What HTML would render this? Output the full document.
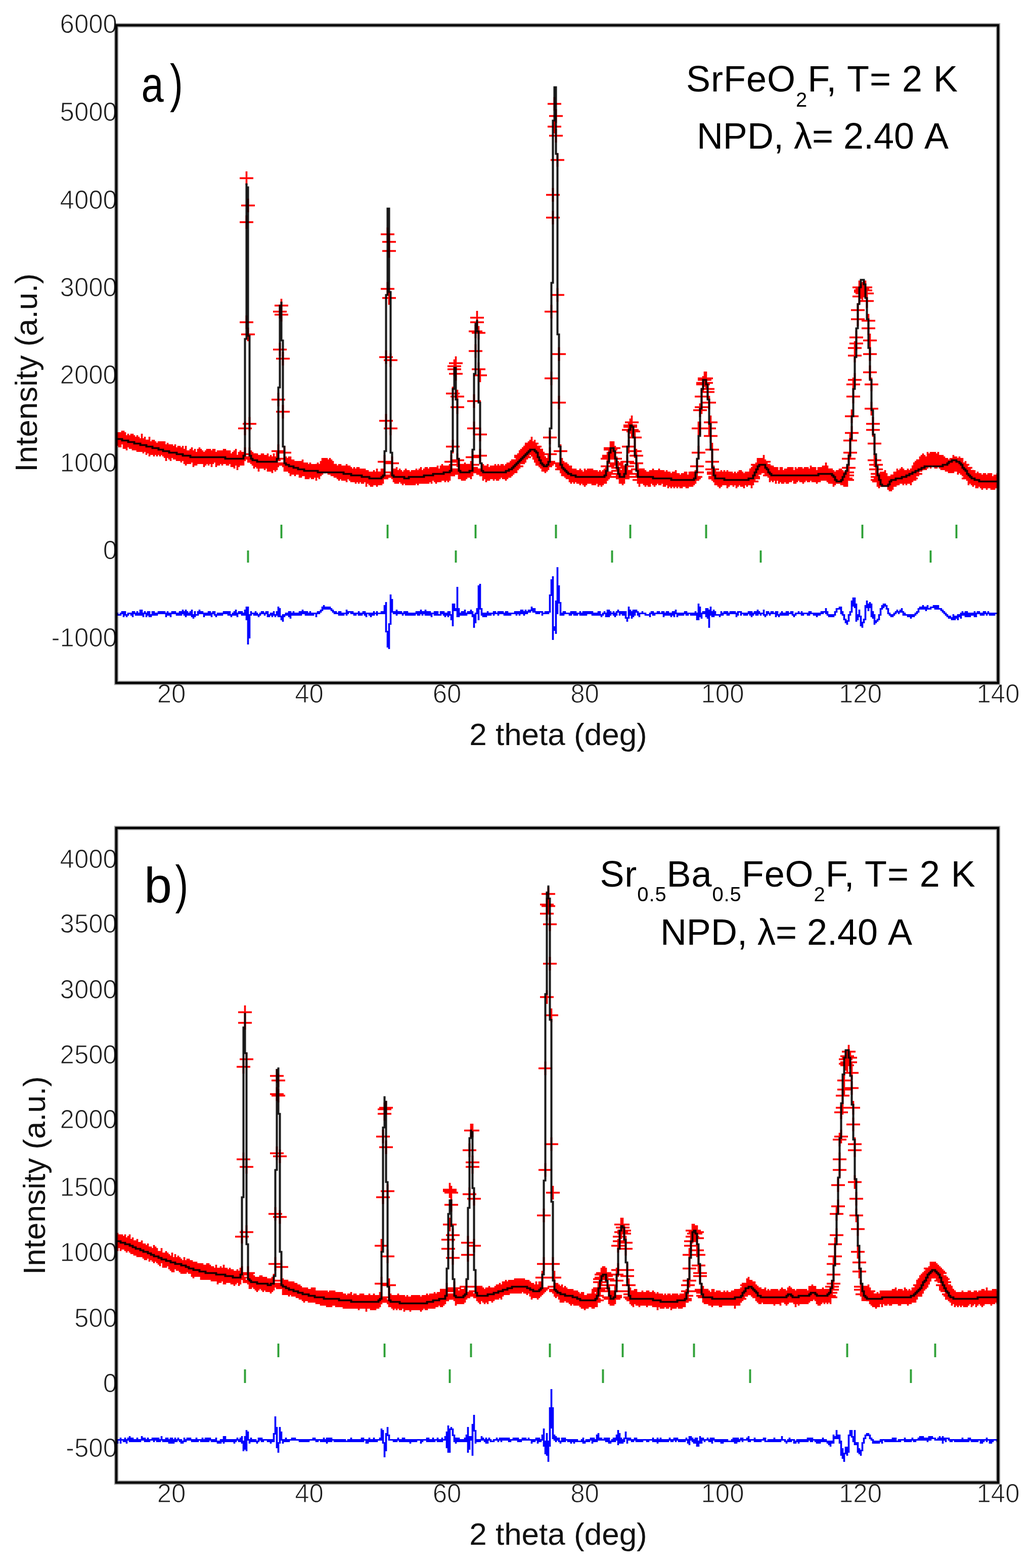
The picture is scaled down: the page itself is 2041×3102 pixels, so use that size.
<!DOCTYPE html>
<html><head><meta charset="utf-8"><title>NPD Rietveld plots</title><style>html,body{margin:0;padding:0;background:#fff;width:2041px;height:3102px;overflow:hidden}svg{display:block}</style></head><body>
<svg width="2041" height="3102" viewBox="0 0 2041 3102" font-family='"Liberation Sans", Arial, sans-serif' fill="#222">
<style>.tl{fill:#1e1e1e;stroke:#fff;stroke-width:1.1px}</style>
<rect width="100%" height="100%" fill="#fff"/>
<g>
<defs>
<clipPath id="clipa"><rect x="232.0" y="52.0" width="1740.0" height="1297.0"/></clipPath>
<path id="ra" d="M72 288.5h9M76.5 284v9M73 289.5h9M77.5 285v9M74 290.5h9M78.5 286v9M74 289.5h9M78.5 285v9M75 290.5h9M79.5 286v9M75 289.5h9M79.5 285v9M76 288.5h9M80.5 284v9M77 288.5h9M81.5 284v9M77 291.5h9M81.5 287v9M78 289.5h9M82.5 285v9M78 291.5h9M82.5 287v9M79 291.5h9M83.5 287v9M79 292.5h9M83.5 288v9M80 290.5h9M84.5 286v9M81 291.5h9M85.5 287v9M82 290.5h9M86.5 286v9M82 291.5h9M86.5 287v9M83 292.5h9M87.5 288v9M83 290.5h9M87.5 286v9M84 292.5h9M88.5 288v9M84 291.5h9M88.5 287v9M85 292.5h9M89.5 288v9M86 293.5h9M90.5 289v9M86 291.5h9M90.5 287v9M87 293.5h9M91.5 289v9M87 292.5h9M91.5 288v9M88 293.5h9M92.5 289v9M89 290.5h9M93.5 286v9M89 292.5h9M93.5 288v9M89 293.5h9M93.5 289v9M90 294.5h9M94.5 290v9M90 293.5h9M94.5 289v9M91 293.5h9M95.5 289v9M91 292.5h9M95.5 288v9M92 295.5h9M96.5 291v9M93 294.5h9M97.5 290v9M94 292.5h9M98.5 288v9M94 295.5h9M98.5 291v9M94 296.5h9M98.5 292v9M95 295.5h9M99.5 291v9M96 295.5h9M100.5 291v9M96 294.5h9M100.5 290v9M97 296.5h9M101.5 292v9M97 294.5h9M101.5 290v9M98 295.5h9M102.5 291v9M99 296.5h9M103.5 292v9M100 295.5h9M104.5 291v9M101 296.5h9M105.5 292v9M101 295.5h9M105.5 291v9M102 295.5h9M106.5 291v9M103 296.5h9M107.5 292v9M103 295.5h9M107.5 291v9M104 295.5h9M108.5 291v9M104 297.5h9M108.5 293v9M105 297.5h9M109.5 293v9M105 299.5h9M109.5 295v9M106 296.5h9M110.5 292v9M106 297.5h9M110.5 293v9M107 298.5h9M111.5 294v9M107 297.5h9M111.5 293v9M108 297.5h9M112.5 293v9M108 299.5h9M112.5 295v9M109 297.5h9M113.5 293v9M110 298.5h9M114.5 294v9M111 297.5h9M115.5 293v9M111 298.5h9M115.5 294v9M112 299.5h9M116.5 295v9M113 298.5h9M117.5 294v9M113 299.5h9M117.5 295v9M114 298.5h9M118.5 294v9M114 299.5h9M118.5 295v9M115 300.5h9M119.5 296v9M115 299.5h9M119.5 295v9M116 298.5h9M120.5 294v9M116 299.5h9M120.5 295v9M117 300.5h9M121.5 296v9M117 301.5h9M121.5 297v9M118 298.5h9M122.5 294v9M118 302.5h9M122.5 298v9M118 299.5h9M122.5 295v9M119 301.5h9M123.5 297v9M120 301.5h9M124.5 297v9M121 300.5h9M125.5 296v9M121 301.5h9M125.5 297v9M122 300.5h9M126.5 296v9M122 299.5h9M126.5 295v9M123 303.5h9M127.5 299v9M123 301.5h9M127.5 297v9M123 302.5h9M127.5 298v9M124 300.5h9M128.5 296v9M124 302.5h9M128.5 298v9M125 302.5h9M129.5 298v9M126 301.5h9M130.5 297v9M126 300.5h9M130.5 296v9M127 301.5h9M131.5 297v9M127 299.5h9M131.5 295v9M128 300.5h9M132.5 296v9M128 301.5h9M132.5 297v9M129 301.5h9M133.5 297v9M130 303.5h9M134.5 299v9M130 302.5h9M134.5 298v9M131 301.5h9M135.5 297v9M131 302.5h9M135.5 298v9M132 300.5h9M136.5 296v9M132 301.5h9M136.5 297v9M133 302.5h9M137.5 298v9M133 300.5h9M137.5 296v9M133 301.5h9M137.5 297v9M134 300.5h9M138.5 296v9M134 301.5h9M138.5 297v9M135 303.5h9M139.5 299v9M135 301.5h9M139.5 297v9M136 301.5h9M140.5 297v9M136 300.5h9M140.5 296v9M137 300.5h9M141.5 296v9M138 302.5h9M142.5 298v9M138 303.5h9M142.5 299v9M139 301.5h9M143.5 297v9M139 302.5h9M143.5 298v9M140 301.5h9M144.5 297v9M140 302.5h9M144.5 298v9M141 301.5h9M145.5 297v9M142 302.5h9M146.5 298v9M142 301.5h9M146.5 297v9M143 301.5h9M147.5 297v9M143 300.5h9M147.5 296v9M144 300.5h9M148.5 296v9M144 301.5h9M148.5 297v9M145 301.5h9M149.5 297v9M145 302.5h9M149.5 298v9M146 302.5h9M150.5 298v9M146 301.5h9M150.5 297v9M147 301.5h9M151.5 297v9M148 303.5h9M152.5 299v9M149 302.5h9M153.5 298v9M149 303.5h9M153.5 299v9M150 301.5h9M154.5 297v9M150 304.5h9M154.5 300v9M151 302.5h9M155.5 298v9M151 300.5h9M155.5 296v9M152 305.5h9M156.5 301v9M152 304.5h9M156.5 300v9M153 302.5h9M157.5 298v9M153 303.5h9M157.5 299v9M154 302.5h9M158.5 298v9M154 301.5h9M158.5 297v9M155 302.5h9M159.5 298v9M156 302.5h9M160.5 298v9M157 299.5h9M161.5 295v9M157 282.5h9M161.5 278v9M158 212.5h9M162.5 208v9M158 146.5h9M162.5 142v9M158 117.5h9M162.5 113v9M159 135.5h9M163.5 131v9M159 220.5h9M163.5 216v9M160 279.5h9M164.5 275v9M160 299.5h9M164.5 295v9M161 301.5h9M165.5 297v9M162 302.5h9M166.5 298v9M163 303.5h9M167.5 299v9M163 304.5h9M167.5 300v9M164 303.5h9M168.5 299v9M165 304.5h9M169.5 300v9M165 303.5h9M169.5 299v9M166 304.5h9M170.5 300v9M166 306.5h9M170.5 302v9M167 304.5h9M171.5 300v9M168 304.5h9M172.5 300v9M168 303.5h9M172.5 299v9M169 303.5h9M173.5 299v9M169 304.5h9M173.5 300v9M170 304.5h9M174.5 300v9M170 305.5h9M174.5 301v9M171 304.5h9M175.5 300v9M172 303.5h9M176.5 299v9M172 306.5h9M176.5 302v9M173 305.5h9M177.5 301v9M173 306.5h9M177.5 302v9M174 306.5h9M178.5 302v9M174 304.5h9M178.5 300v9M175 305.5h9M179.5 301v9M175 307.5h9M179.5 303v9M176 303.5h9M180.5 299v9M176 305.5h9M180.5 301v9M177 306.5h9M181.5 302v9M177 305.5h9M181.5 301v9M178 305.5h9M182.5 301v9M178 302.5h9M182.5 298v9M179 297.5h9M183.5 293v9M179 263.5h9M183.5 259v9M180 230.5h9M184.5 226v9M180 205.5h9M184.5 201v9M181 201.5h9M185.5 197v9M181 207.5h9M185.5 203v9M182 236.5h9M186.5 232v9M182 271.5h9M186.5 267v9M183 298.5h9M187.5 294v9M183 305.5h9M187.5 301v9M183 306.5h9M187.5 302v9M184 305.5h9M188.5 301v9M184 306.5h9M188.5 302v9M185 306.5h9M189.5 302v9M186 305.5h9M190.5 301v9M186 307.5h9M190.5 303v9M187 309.5h9M191.5 305v9M187 305.5h9M191.5 301v9M188 308.5h9M192.5 304v9M188 307.5h9M192.5 303v9M189 308.5h9M193.5 304v9M189 307.5h9M193.5 303v9M190 308.5h9M194.5 304v9M190 309.5h9M194.5 305v9M191 308.5h9M195.5 304v9M192 308.5h9M196.5 304v9M193 310.5h9M197.5 306v9M193 308.5h9M197.5 304v9M194 308.5h9M198.5 304v9M194 310.5h9M198.5 306v9M195 309.5h9M199.5 305v9M195 307.5h9M199.5 303v9M196 309.5h9M200.5 305v9M197 309.5h9M201.5 305v9M197 311.5h9M201.5 307v9M198 309.5h9M202.5 305v9M198 311.5h9M202.5 307v9M199 310.5h9M203.5 306v9M199 311.5h9M203.5 307v9M200 310.5h9M204.5 306v9M200 309.5h9M204.5 305v9M201 310.5h9M205.5 306v9M201 311.5h9M205.5 307v9M202 311.5h9M206.5 307v9M202 310.5h9M206.5 306v9M203 310.5h9M207.5 306v9M204 312.5h9M208.5 308v9M204 310.5h9M208.5 306v9M205 309.5h9M209.5 305v9M205 310.5h9M209.5 306v9M206 311.5h9M210.5 307v9M206 310.5h9M210.5 306v9M207 309.5h9M211.5 305v9M207 308.5h9M211.5 304v9M208 308.5h9M212.5 304v9M208 306.5h9M212.5 302v9M209 307.5h9M213.5 303v9M209 306.5h9M213.5 302v9M210 306.5h9M214.5 302v9M210 307.5h9M214.5 303v9M211 307.5h9M215.5 303v9M211 306.5h9M215.5 302v9M212 308.5h9M216.5 304v9M212 307.5h9M216.5 303v9M213 306.5h9M217.5 302v9M213 308.5h9M217.5 304v9M214 307.5h9M218.5 303v9M214 309.5h9M218.5 305v9M215 309.5h9M219.5 305v9M215 308.5h9M219.5 304v9M216 310.5h9M220.5 306v9M217 310.5h9M221.5 306v9M218 311.5h9M222.5 307v9M219 310.5h9M223.5 306v9M219 312.5h9M223.5 308v9M220 310.5h9M224.5 306v9M220 311.5h9M224.5 307v9M221 312.5h9M225.5 308v9M221 311.5h9M225.5 307v9M222 311.5h9M226.5 307v9M222 312.5h9M226.5 308v9M223 311.5h9M227.5 307v9M223 312.5h9M227.5 308v9M224 313.5h9M228.5 309v9M224 310.5h9M228.5 306v9M225 311.5h9M229.5 307v9M226 311.5h9M230.5 307v9M226 312.5h9M230.5 308v9M227 312.5h9M231.5 308v9M227 313.5h9M231.5 309v9M228 313.5h9M232.5 309v9M229 312.5h9M233.5 308v9M229 313.5h9M233.5 309v9M230 314.5h9M234.5 310v9M230 313.5h9M234.5 309v9M231 312.5h9M235.5 308v9M231 313.5h9M235.5 309v9M232 312.5h9M236.5 308v9M232 313.5h9M236.5 309v9M232 314.5h9M236.5 310v9M233 313.5h9M237.5 309v9M234 314.5h9M238.5 310v9M234 313.5h9M238.5 309v9M235 314.5h9M239.5 310v9M235 313.5h9M239.5 309v9M236 313.5h9M240.5 309v9M237 316.5h9M241.5 312v9M237 314.5h9M241.5 310v9M238 314.5h9M242.5 310v9M239 315.5h9M243.5 311v9M240 316.5h9M244.5 312v9M240 315.5h9M244.5 311v9M241 316.5h9M245.5 312v9M241 315.5h9M245.5 311v9M242 315.5h9M246.5 311v9M242 314.5h9M246.5 310v9M243 315.5h9M247.5 311v9M244 313.5h9M248.5 309v9M244 316.5h9M248.5 312v9M245 315.5h9M249.5 311v9M246 315.5h9M250.5 311v9M247 315.5h9M251.5 311v9M247 313.5h9M251.5 309v9M248 314.5h9M252.5 310v9M248 313.5h9M252.5 309v9M249 311.5h9M253.5 307v9M249 304.5h9M253.5 300v9M250 277.5h9M254.5 273v9M250 235.5h9M254.5 231v9M251 190.5h9M255.5 186v9M251 154.5h9M255.5 150v9M252 159.5h9M256.5 155v9M252 165.5h9M256.5 161v9M252 196.5h9M256.5 192v9M253 237.5h9M257.5 233v9M253 282.5h9M257.5 278v9M254 305.5h9M258.5 301v9M254 311.5h9M258.5 307v9M255 313.5h9M259.5 309v9M256 313.5h9M260.5 309v9M256 314.5h9M260.5 310v9M257 312.5h9M261.5 308v9M257 314.5h9M261.5 310v9M257 313.5h9M261.5 309v9M258 314.5h9M262.5 310v9M259 313.5h9M263.5 309v9M260 314.5h9M264.5 310v9M261 315.5h9M265.5 311v9M262 314.5h9M266.5 310v9M263 315.5h9M267.5 311v9M263 313.5h9M267.5 309v9M264 315.5h9M268.5 311v9M264 314.5h9M268.5 310v9M265 314.5h9M269.5 310v9M265 315.5h9M269.5 311v9M266 315.5h9M270.5 311v9M267 315.5h9M271.5 311v9M267 314.5h9M271.5 310v9M268 315.5h9M272.5 311v9M268 314.5h9M272.5 310v9M269 315.5h9M273.5 311v9M269 314.5h9M273.5 310v9M270 314.5h9M274.5 310v9M270 313.5h9M274.5 309v9M271 314.5h9M275.5 310v9M271 315.5h9M275.5 311v9M272 313.5h9M276.5 309v9M272 314.5h9M276.5 310v9M273 314.5h9M277.5 310v9M273 312.5h9M277.5 308v9M274 314.5h9M278.5 310v9M275 313.5h9M279.5 309v9M275 314.5h9M279.5 310v9M276 312.5h9M280.5 308v9M276 314.5h9M280.5 310v9M277 313.5h9M281.5 309v9M277 314.5h9M281.5 310v9M277 312.5h9M281.5 308v9M278 314.5h9M282.5 310v9M278 313.5h9M282.5 309v9M279 313.5h9M283.5 309v9M279 312.5h9M283.5 308v9M280 312.5h9M284.5 308v9M280 314.5h9M284.5 310v9M281 312.5h9M285.5 308v9M282 312.5h9M286.5 308v9M282 313.5h9M286.5 309v9M283 314.5h9M287.5 310v9M283 312.5h9M287.5 308v9M284 311.5h9M288.5 307v9M284 313.5h9M288.5 309v9M285 313.5h9M289.5 309v9M286 313.5h9M290.5 309v9M286 311.5h9M290.5 307v9M287 312.5h9M291.5 308v9M287 311.5h9M291.5 307v9M287 310.5h9M291.5 306v9M288 312.5h9M292.5 308v9M288 311.5h9M292.5 307v9M289 313.5h9M293.5 309v9M289 311.5h9M293.5 307v9M290 311.5h9M294.5 307v9M290 312.5h9M294.5 308v9M291 313.5h9M295.5 309v9M291 311.5h9M295.5 307v9M292 310.5h9M296.5 306v9M292 311.5h9M296.5 307v9M292 312.5h9M296.5 308v9M293 309.5h9M297.5 305v9M293 304.5h9M297.5 300v9M294 294.5h9M298.5 290v9M294 259.5h9M298.5 255v9M295 243.5h9M299.5 239v9M295 241.5h9M299.5 237v9M296 239.5h9M300.5 235v9M296 246.5h9M300.5 242v9M297 261.5h9M301.5 257v9M297 268.5h9M301.5 264v9M297 303.5h9M301.5 299v9M298 306.5h9M302.5 302v9M298 311.5h9M302.5 307v9M299 311.5h9M303.5 307v9M300 312.5h9M304.5 308v9M300 310.5h9M304.5 306v9M301 310.5h9M305.5 306v9M301 312.5h9M305.5 308v9M302 310.5h9M306.5 306v9M302 309.5h9M306.5 305v9M302 312.5h9M306.5 308v9M303 310.5h9M307.5 306v9M303 311.5h9M307.5 307v9M304 310.5h9M308.5 306v9M305 310.5h9M309.5 306v9M306 311.5h9M310.5 307v9M306 308.5h9M310.5 304v9M307 309.5h9M311.5 305v9M307 306.5h9M311.5 302v9M307 301.5h9M311.5 297v9M308 282.5h9M312.5 278v9M308 264.5h9M312.5 260v9M309 231.5h9M313.5 227v9M309 218.5h9M313.5 214v9M310 209.5h9M314.5 205v9M310 212.5h9M314.5 208v9M311 219.5h9M315.5 215v9M311 243.5h9M315.5 239v9M312 247.5h9M316.5 243v9M312 286.5h9M316.5 282v9M312 300.5h9M316.5 296v9M313 309.5h9M317.5 305v9M314 310.5h9M318.5 306v9M314 312.5h9M318.5 308v9M315 311.5h9M319.5 307v9M316 313.5h9M320.5 309v9M316 311.5h9M320.5 307v9M317 310.5h9M321.5 306v9M317 312.5h9M321.5 308v9M318 312.5h9M322.5 308v9M319 311.5h9M323.5 307v9M320 311.5h9M324.5 307v9M321 311.5h9M325.5 307v9M321 312.5h9M325.5 308v9M322 310.5h9M326.5 306v9M322 311.5h9M326.5 307v9M323 311.5h9M327.5 307v9M323 312.5h9M327.5 308v9M324 310.5h9M328.5 306v9M324 312.5h9M328.5 308v9M325 311.5h9M329.5 307v9M326 310.5h9M330.5 306v9M327 311.5h9M331.5 307v9M327 310.5h9M331.5 306v9M328 311.5h9M332.5 307v9M329 312.5h9M333.5 308v9M329 310.5h9M333.5 306v9M330 309.5h9M334.5 305v9M330 311.5h9M334.5 307v9M331 310.5h9M335.5 306v9M331 309.5h9M335.5 305v9M332 310.5h9M336.5 306v9M332 309.5h9M336.5 305v9M333 309.5h9M337.5 305v9M333 308.5h9M337.5 304v9M334 308.5h9M338.5 304v9M334 307.5h9M338.5 303v9M335 307.5h9M339.5 303v9M336 305.5h9M340.5 301v9M336 307.5h9M340.5 303v9M336 304.5h9M340.5 300v9M337 305.5h9M341.5 301v9M337 303.5h9M341.5 299v9M338 303.5h9M342.5 299v9M338 304.5h9M342.5 300v9M339 301.5h9M343.5 297v9M339 300.5h9M343.5 296v9M340 300.5h9M344.5 296v9M341 301.5h9M345.5 297v9M341 299.5h9M345.5 295v9M342 297.5h9M346.5 293v9M342 298.5h9M346.5 294v9M343 297.5h9M347.5 293v9M343 298.5h9M347.5 294v9M344 295.5h9M348.5 291v9M344 296.5h9M348.5 292v9M345 295.5h9M349.5 291v9M345 294.5h9M349.5 290v9M346 295.5h9M350.5 291v9M346 294.5h9M350.5 290v9M346 292.5h9M350.5 288v9M347 295.5h9M351.5 291v9M348 294.5h9M352.5 290v9M349 297.5h9M353.5 293v9M349 296.5h9M353.5 292v9M350 298.5h9M354.5 294v9M350 300.5h9M354.5 296v9M351 299.5h9M355.5 295v9M351 301.5h9M355.5 297v9M351 302.5h9M355.5 298v9M352 303.5h9M356.5 299v9M352 304.5h9M356.5 300v9M353 305.5h9M357.5 301v9M353 306.5h9M357.5 302v9M354 306.5h9M358.5 302v9M355 306.5h9M359.5 302v9M355 307.5h9M359.5 303v9M356 306.5h9M360.5 302v9M357 305.5h9M361.5 301v9M357 304.5h9M361.5 300v9M358 299.5h9M362.5 295v9M358 288.5h9M362.5 284v9M359 249.5h9M363.5 245v9M359 205.5h9M363.5 201v9M360 143.5h9M364.5 139v9M360 128.5h9M364.5 124v9M361 83.5h9M365.5 79v9M361 68.5h9M365.5 64v9M362 76.5h9M366.5 72v9M362 89.5h9M366.5 85v9M363 105.5h9M367.5 101v9M363 194.5h9M367.5 190v9M364 233.5h9M368.5 229v9M364 265.5h9M368.5 261v9M365 297.5h9M369.5 293v9M365 305.5h9M369.5 301v9M366 306.5h9M370.5 302v9M366 307.5h9M370.5 303v9M366 309.5h9M370.5 305v9M367 309.5h9M371.5 305v9M367 308.5h9M371.5 304v9M368 309.5h9M372.5 305v9M369 310.5h9M373.5 306v9M369 311.5h9M373.5 307v9M370 311.5h9M374.5 307v9M371 311.5h9M375.5 307v9M371 313.5h9M375.5 309v9M372 314.5h9M376.5 310v9M372 311.5h9M376.5 307v9M373 313.5h9M377.5 309v9M374 314.5h9M378.5 310v9M374 313.5h9M378.5 309v9M375 313.5h9M379.5 309v9M376 314.5h9M380.5 310v9M377 314.5h9M381.5 310v9M378 313.5h9M382.5 309v9M378 315.5h9M382.5 311v9M379 314.5h9M383.5 310v9M380 315.5h9M384.5 311v9M381 313.5h9M385.5 309v9M381 314.5h9M385.5 310v9M381 316.5h9M385.5 312v9M382 315.5h9M386.5 311v9M382 314.5h9M386.5 310v9M383 313.5h9M387.5 309v9M383 314.5h9M387.5 310v9M384 314.5h9M388.5 310v9M384 313.5h9M388.5 309v9M385 314.5h9M389.5 310v9M385 313.5h9M389.5 309v9M386 313.5h9M390.5 309v9M386 315.5h9M390.5 311v9M386 314.5h9M390.5 310v9M387 314.5h9M391.5 310v9M387 315.5h9M391.5 311v9M388 315.5h9M392.5 311v9M388 314.5h9M392.5 310v9M389 314.5h9M393.5 310v9M390 316.5h9M394.5 312v9M390 315.5h9M394.5 311v9M391 314.5h9M395.5 310v9M391 315.5h9M395.5 311v9M392 315.5h9M396.5 311v9M392 316.5h9M396.5 312v9M393 315.5h9M397.5 311v9M393 314.5h9M397.5 310v9M394 314.5h9M398.5 310v9M394 313.5h9M398.5 309v9M395 314.5h9M399.5 310v9M395 311.5h9M399.5 307v9M396 312.5h9M400.5 308v9M396 307.5h9M400.5 303v9M396 302.5h9M400.5 298v9M397 301.5h9M401.5 297v9M397 300.5h9M401.5 296v9M398 296.5h9M402.5 292v9M398 295.5h9M402.5 291v9M399 295.5h9M403.5 291v9M400 295.5h9M404.5 291v9M401 298.5h9M405.5 294v9M401 302.5h9M405.5 298v9M402 305.5h9M406.5 301v9M402 306.5h9M406.5 302v9M403 308.5h9M407.5 304v9M403 310.5h9M407.5 306v9M404 312.5h9M408.5 308v9M404 314.5h9M408.5 310v9M405 314.5h9M409.5 310v9M406 313.5h9M410.5 309v9M406 315.5h9M410.5 311v9M407 314.5h9M411.5 310v9M407 312.5h9M411.5 308v9M408 311.5h9M412.5 307v9M408 310.5h9M412.5 306v9M409 307.5h9M413.5 303v9M409 304.5h9M413.5 300v9M410 294.5h9M414.5 290v9M410 283.5h9M414.5 279v9M411 281.5h9M415.5 277v9M411 280.5h9M415.5 276v9M412 278.5h9M416.5 274v9M412 283.5h9M416.5 279v9M413 284.5h9M417.5 280v9M414 288.5h9M418.5 284v9M414 297.5h9M418.5 293v9M415 300.5h9M419.5 296v9M415 305.5h9M419.5 301v9M416 309.5h9M420.5 305v9M416 312.5h9M420.5 308v9M416 314.5h9M420.5 310v9M417 316.5h9M421.5 312v9M417 314.5h9M421.5 310v9M418 314.5h9M422.5 310v9M419 313.5h9M423.5 309v9M419 314.5h9M423.5 310v9M420 315.5h9M424.5 311v9M420 314.5h9M424.5 310v9M421 314.5h9M425.5 310v9M421 316.5h9M425.5 312v9M421 315.5h9M425.5 311v9M422 315.5h9M426.5 311v9M423 315.5h9M427.5 311v9M423 316.5h9M427.5 312v9M424 314.5h9M428.5 310v9M424 316.5h9M428.5 312v9M425 314.5h9M429.5 310v9M426 313.5h9M430.5 309v9M426 314.5h9M430.5 310v9M426 315.5h9M430.5 311v9M427 316.5h9M431.5 312v9M427 314.5h9M431.5 310v9M428 315.5h9M432.5 311v9M428 314.5h9M432.5 310v9M429 314.5h9M433.5 310v9M430 315.5h9M434.5 311v9M430 313.5h9M434.5 309v9M431 315.5h9M435.5 311v9M431 314.5h9M435.5 310v9M432 314.5h9M436.5 310v9M433 316.5h9M437.5 312v9M433 314.5h9M437.5 310v9M434 316.5h9M438.5 312v9M434 315.5h9M438.5 311v9M435 315.5h9M439.5 311v9M435 314.5h9M439.5 310v9M436 316.5h9M440.5 312v9M436 317.5h9M440.5 313v9M436 315.5h9M440.5 311v9M437 315.5h9M441.5 311v9M437 316.5h9M441.5 312v9M438 316.5h9M442.5 312v9M438 317.5h9M442.5 313v9M439 315.5h9M443.5 311v9M439 316.5h9M443.5 312v9M440 315.5h9M444.5 311v9M440 317.5h9M444.5 313v9M441 314.5h9M445.5 310v9M441 316.5h9M445.5 312v9M442 316.5h9M446.5 312v9M442 317.5h9M446.5 313v9M443 316.5h9M447.5 312v9M444 317.5h9M448.5 313v9M445 316.5h9M449.5 312v9M445 317.5h9M449.5 313v9M446 316.5h9M450.5 312v9M447 316.5h9M451.5 312v9M447 315.5h9M451.5 311v9M448 317.5h9M452.5 313v9M448 315.5h9M452.5 311v9M449 317.5h9M453.5 313v9M450 316.5h9M454.5 312v9M450 315.5h9M454.5 311v9M451 316.5h9M455.5 312v9M452 316.5h9M456.5 312v9M453 315.5h9M457.5 311v9M454 314.5h9M458.5 310v9M455 311.5h9M459.5 307v9M455 307.5h9M459.5 303v9M456 298.5h9M460.5 294v9M456 282.5h9M460.5 278v9M457 282.5h9M461.5 278v9M457 270.5h9M461.5 266v9M458 268.5h9M462.5 264v9M458 261.5h9M462.5 257v9M459 253.5h9M463.5 249v9M459 252.5h9M463.5 248v9M460 249.5h9M464.5 245v9M460 250.5h9M464.5 246v9M461 252.5h9M465.5 248v9M461 249.5h9M465.5 245v9M462 258.5h9M466.5 254v9M462 256.5h9M466.5 252v9M463 265.5h9M467.5 261v9M463 282.5h9M467.5 278v9M464 278.5h9M468.5 274v9M464 287.5h9M468.5 283v9M465 296.5h9M469.5 292v9M465 304.5h9M469.5 300v9M465 309.5h9M469.5 305v9M466 312.5h9M470.5 308v9M466 311.5h9M470.5 307v9M467 314.5h9M471.5 310v9M467 315.5h9M471.5 311v9M468 315.5h9M472.5 311v9M469 316.5h9M473.5 312v9M470 316.5h9M474.5 312v9M470 317.5h9M474.5 313v9M471 314.5h9M475.5 310v9M471 316.5h9M475.5 312v9M472 315.5h9M476.5 311v9M473 315.5h9M477.5 311v9M473 314.5h9M477.5 310v9M474 315.5h9M478.5 311v9M475 316.5h9M479.5 312v9M475 314.5h9M479.5 310v9M475 317.5h9M479.5 313v9M476 316.5h9M480.5 312v9M476 315.5h9M480.5 311v9M477 315.5h9M481.5 311v9M478 315.5h9M482.5 311v9M479 316.5h9M483.5 312v9M480 315.5h9M484.5 311v9M481 316.5h9M485.5 312v9M481 317.5h9M485.5 313v9M482 316.5h9M486.5 312v9M482 315.5h9M486.5 311v9M483 314.5h9M487.5 310v9M483 315.5h9M487.5 311v9M484 314.5h9M488.5 310v9M484 316.5h9M488.5 312v9M485 315.5h9M489.5 311v9M485 316.5h9M489.5 312v9M486 316.5h9M490.5 312v9M486 317.5h9M490.5 313v9M487 315.5h9M491.5 311v9M488 315.5h9M492.5 311v9M488 316.5h9M492.5 312v9M489 315.5h9M493.5 311v9M490 314.5h9M494.5 310v9M490 315.5h9M494.5 311v9M491 317.5h9M495.5 313v9M491 314.5h9M495.5 310v9M492 315.5h9M496.5 311v9M492 314.5h9M496.5 310v9M493 312.5h9M497.5 308v9M494 311.5h9M498.5 307v9M494 309.5h9M498.5 305v9M495 310.5h9M499.5 306v9M495 306.5h9M499.5 302v9M495 308.5h9M499.5 304v9M496 307.5h9M500.5 303v9M496 306.5h9M500.5 302v9M497 306.5h9M501.5 302v9M498 306.5h9M502.5 302v9M499 306.5h9M503.5 302v9M499 304.5h9M503.5 300v9M500 307.5h9M504.5 303v9M500 308.5h9M504.5 304v9M501 309.5h9M505.5 305v9M501 308.5h9M505.5 304v9M502 310.5h9M506.5 306v9M503 311.5h9M507.5 307v9M503 313.5h9M507.5 309v9M504 312.5h9M508.5 308v9M505 311.5h9M509.5 307v9M505 313.5h9M509.5 309v9M506 312.5h9M510.5 308v9M507 314.5h9M511.5 310v9M507 312.5h9M511.5 308v9M508 312.5h9M512.5 308v9M509 314.5h9M513.5 310v9M510 313.5h9M514.5 309v9M510 312.5h9M514.5 308v9M511 314.5h9M515.5 310v9M511 312.5h9M515.5 308v9M512 314.5h9M516.5 310v9M513 313.5h9M517.5 309v9M514 313.5h9M518.5 309v9M514 314.5h9M518.5 310v9M515 312.5h9M519.5 308v9M515 314.5h9M519.5 310v9M516 312.5h9M520.5 308v9M516 313.5h9M520.5 309v9M517 313.5h9M521.5 309v9M517 312.5h9M521.5 308v9M518 312.5h9M522.5 308v9M519 314.5h9M523.5 310v9M520 313.5h9M524.5 309v9M520 314.5h9M524.5 310v9M520 312.5h9M524.5 308v9M521 313.5h9M525.5 309v9M522 312.5h9M526.5 308v9M523 313.5h9M527.5 309v9M523 312.5h9M527.5 308v9M524 312.5h9M528.5 308v9M524 313.5h9M528.5 309v9M525 313.5h9M529.5 309v9M525 314.5h9M529.5 310v9M526 312.5h9M530.5 308v9M526 313.5h9M530.5 309v9M527 312.5h9M531.5 308v9M528 312.5h9M532.5 308v9M528 313.5h9M532.5 309v9M529 313.5h9M533.5 309v9M530 311.5h9M534.5 307v9M530 312.5h9M534.5 308v9M531 313.5h9M535.5 309v9M531 312.5h9M535.5 308v9M532 312.5h9M536.5 308v9M532 313.5h9M536.5 309v9M533 313.5h9M537.5 309v9M533 312.5h9M537.5 308v9M534 314.5h9M538.5 310v9M535 312.5h9M539.5 308v9M535 313.5h9M539.5 309v9M536 313.5h9M540.5 309v9M536 312.5h9M540.5 308v9M537 312.5h9M541.5 308v9M538 311.5h9M542.5 307v9M538 312.5h9M542.5 308v9M539 312.5h9M543.5 308v9M539 311.5h9M543.5 307v9M540 311.5h9M544.5 307v9M540 309.5h9M544.5 305v9M540 312.5h9M544.5 308v9M541 311.5h9M545.5 307v9M541 313.5h9M545.5 309v9M542 314.5h9M546.5 310v9M543 313.5h9M547.5 309v9M543 314.5h9M547.5 310v9M544 314.5h9M548.5 310v9M545 314.5h9M549.5 310v9M545 316.5h9M549.5 312v9M546 315.5h9M550.5 311v9M547 314.5h9M551.5 310v9M548 314.5h9M552.5 310v9M549 314.5h9M553.5 310v9M549 313.5h9M553.5 309v9M550 313.5h9M554.5 309v9M550 315.5h9M554.5 311v9M551 314.5h9M555.5 310v9M551 315.5h9M555.5 311v9M552 316.5h9M556.5 312v9M553 316.5h9M557.5 312v9M553 315.5h9M557.5 311v9M554 316.5h9M558.5 312v9M554 313.5h9M558.5 309v9M554 311.5h9M558.5 307v9M555 308.5h9M559.5 304v9M555 302.5h9M559.5 298v9M556 298.5h9M560.5 294v9M556 290.5h9M560.5 286v9M557 285.5h9M561.5 281v9M557 274.5h9M561.5 270v9M558 261.5h9M562.5 257v9M558 253.5h9M562.5 249v9M559 250.5h9M563.5 246v9M559 234.5h9M563.5 230v9M559 229.5h9M563.5 225v9M560 226.5h9M564.5 222v9M560 222.5h9M564.5 218v9M561 210.5h9M565.5 206v9M561 204.5h9M565.5 200v9M562 195.5h9M566.5 191v9M562 189.5h9M566.5 185v9M563 192.5h9M567.5 188v9M563 191.5h9M567.5 187v9M564 193.5h9M568.5 189v9M564 191.5h9M568.5 187v9M564 190.5h9M568.5 186v9M565 189.5h9M569.5 185v9M565 191.5h9M569.5 187v9M566 191.5h9M570.5 187v9M566 189.5h9M570.5 185v9M567 193.5h9M571.5 189v9M567 198.5h9M571.5 194v9M568 211.5h9M572.5 207v9M568 216.5h9M572.5 212v9M569 224.5h9M573.5 220v9M569 233.5h9M573.5 229v9M569 245.5h9M573.5 241v9M570 253.5h9M574.5 249v9M570 269.5h9M574.5 265v9M571 279.5h9M575.5 275v9M571 283.5h9M575.5 279v9M572 292.5h9M576.5 288v9M572 303.5h9M576.5 299v9M573 306.5h9M577.5 302v9M573 309.5h9M577.5 305v9M574 312.5h9M578.5 308v9M574 314.5h9M578.5 310v9M574 316.5h9M578.5 312v9M575 316.5h9M579.5 312v9M575 317.5h9M579.5 313v9M576 316.5h9M580.5 312v9M576 315.5h9M580.5 311v9M577 316.5h9M581.5 312v9M577 315.5h9M581.5 311v9M578 316.5h9M582.5 312v9M578 315.5h9M582.5 311v9M579 314.5h9M583.5 310v9M579 315.5h9M583.5 311v9M579 316.5h9M583.5 312v9M580 316.5h9M584.5 312v9M581 318.5h9M585.5 314v9M582 319.5h9M586.5 315v9M582 318.5h9M586.5 314v9M583 319.5h9M587.5 315v9M583 318.5h9M587.5 314v9M584 318.5h9M588.5 314v9M584 317.5h9M588.5 313v9M585 316.5h9M589.5 312v9M585 315.5h9M589.5 311v9M586 316.5h9M590.5 312v9M586 315.5h9M590.5 311v9M587 314.5h9M591.5 310v9M587 313.5h9M591.5 309v9M588 314.5h9M592.5 310v9M588 315.5h9M592.5 311v9M589 313.5h9M593.5 309v9M589 314.5h9M593.5 310v9M590 312.5h9M594.5 308v9M590 314.5h9M594.5 310v9M591 313.5h9M595.5 309v9M591 315.5h9M595.5 311v9M592 314.5h9M596.5 310v9M593 314.5h9M597.5 310v9M593 315.5h9M597.5 311v9M594 314.5h9M598.5 310v9M594 313.5h9M598.5 309v9M595 314.5h9M599.5 310v9M596 315.5h9M600.5 311v9M596 313.5h9M600.5 309v9M597 313.5h9M601.5 309v9M598 312.5h9M602.5 308v9M599 312.5h9M603.5 308v9M599 310.5h9M603.5 306v9M600 309.5h9M604.5 305v9M601 308.5h9M605.5 304v9M601 307.5h9M605.5 303v9M602 305.5h9M606.5 301v9M602 306.5h9M606.5 302v9M603 304.5h9M607.5 300v9M603 305.5h9M607.5 301v9M604 305.5h9M608.5 301v9M604 303.5h9M608.5 299v9M605 305.5h9M609.5 301v9M605 304.5h9M609.5 300v9M606 305.5h9M610.5 301v9M607 302.5h9M611.5 298v9M607 304.5h9M611.5 300v9M608 303.5h9M612.5 299v9M609 304.5h9M613.5 300v9M609 302.5h9M613.5 298v9M610 302.5h9M614.5 298v9M611 303.5h9M615.5 299v9M611 302.5h9M615.5 298v9M612 302.5h9M616.5 298v9M612 304.5h9M616.5 300v9M613 303.5h9M617.5 299v9M613 304.5h9M617.5 300v9M614 302.5h9M618.5 298v9M614 303.5h9M618.5 299v9M615 304.5h9M619.5 300v9M616 305.5h9M620.5 301v9M616 304.5h9M620.5 300v9M617 304.5h9M621.5 300v9M617 305.5h9M621.5 301v9M618 305.5h9M622.5 301v9M619 306.5h9M623.5 302v9M620 306.5h9M624.5 302v9M621 307.5h9M625.5 303v9M622 306.5h9M626.5 302v9M622 307.5h9M626.5 303v9M623 306.5h9M627.5 302v9M623 307.5h9M627.5 303v9M624 306.5h9M628.5 302v9M624 304.5h9M628.5 300v9M624 307.5h9M628.5 303v9M625 306.5h9M629.5 302v9M625 305.5h9M629.5 301v9M626 306.5h9M630.5 302v9M626 305.5h9M630.5 301v9M627 308.5h9M631.5 304v9M627 306.5h9M631.5 302v9M628 305.5h9M632.5 301v9M628 307.5h9M632.5 303v9M629 306.5h9M633.5 302v9M629 308.5h9M633.5 304v9M630 306.5h9M634.5 302v9M630 308.5h9M634.5 304v9M631 309.5h9M635.5 305v9M632 308.5h9M636.5 304v9M632 311.5h9M636.5 307v9M633 312.5h9M637.5 308v9M633 310.5h9M637.5 306v9M634 313.5h9M638.5 309v9M634 312.5h9M638.5 308v9M634 315.5h9M638.5 311v9M635 314.5h9M639.5 310v9M636 315.5h9M640.5 311v9M637 315.5h9M641.5 311v9M637 316.5h9M641.5 312v9M638 315.5h9M642.5 311v9M638 314.5h9M642.5 310v9M639 317.5h9M643.5 313v9M639 316.5h9M643.5 312v9M640 317.5h9M644.5 313v9M640 315.5h9M644.5 311v9M641 316.5h9M645.5 312v9M642 316.5h9M646.5 312v9M642 317.5h9M646.5 313v9M643 318.5h9M647.5 314v9M643 317.5h9M647.5 313v9M644 317.5h9M648.5 313v9M644 316.5h9M648.5 312v9M645 317.5h9M649.5 313v9M645 316.5h9M649.5 312v9M646 318.5h9M650.5 314v9M646 317.5h9M650.5 313v9M647 317.5h9M651.5 313v9M647 316.5h9M651.5 312v9M648 317.5h9M652.5 313v9M648 316.5h9M652.5 312v9M649 318.5h9M653.5 314v9M649 317.5h9M653.5 313v9M649 316.5h9M653.5 312v9M650 318.5h9M654.5 314v9M651 317.5h9M655.5 313v9M651 318.5h9M655.5 314v9M652 317.5h9M656.5 313v9M653 317.5h9M657.5 313v9M653 316.5h9M657.5 312v9M654 317.5h9M658.5 313v9"/>
<path id="ka" d="M76.5 288.9v1.2M77.5 288.9v1.2M78.5 288.9v1.2M79.5 288.9v1.2M80.5 288.9v2.2M81.5 289.9v1.2M82.5 289.9v1.2M83.5 289.9v1.2M84.5 289.9v2.2M85.5 290.9v1.2M86.5 290.9v1.2M87.5 290.9v1.2M88.5 290.9v2.2M89.5 291.9v1.2M90.5 291.9v1.2M91.5 291.9v1.2M92.5 291.9v2.2M93.5 292.9v1.2M94.5 292.9v1.2M95.5 292.9v1.2M96.5 292.9v2.2M97.5 293.9v1.2M98.5 293.9v1.2M99.5 293.9v1.2M100.5 293.9v2.2M101.5 294.9v1.2M102.5 294.9v1.2M103.5 294.9v1.2M104.5 294.9v2.2M105.5 295.9v1.2M106.5 295.9v1.2M107.5 295.9v2.2M108.5 296.9v1.2M109.5 296.9v1.2M110.5 296.9v1.2M111.5 296.9v2.2M112.5 297.9v1.2M113.5 297.9v1.2M114.5 297.9v1.2M115.5 297.9v1.2M116.5 297.9v2.2M117.5 298.9v1.2M118.5 298.9v1.2M119.5 298.9v1.2M120.5 298.9v2.2M121.5 299.9v1.2M122.5 299.9v1.2M123.5 299.9v1.2M124.5 299.9v1.2M125.5 299.9v2.2M126.5 300.9v1.2M127.5 300.9v1.2M128.5 300.9v1.2M129.5 300.9v1.2M130.5 300.9v1.2M131.5 300.9v1.2M132.5 300.9v1.2M133.5 300.9v1.2M134.5 300.9v1.2M135.5 300.9v1.2M136.5 300.9v1.2M137.5 300.9v1.2M138.5 300.9v1.2M139.5 300.9v1.2M140.5 300.9v1.2M141.5 300.9v1.2M142.5 300.9v1.2M143.5 300.9v1.2M144.5 300.9v1.2M145.5 300.9v1.2M146.5 300.9v1.2M147.5 300.9v1.2M148.5 300.9v2.2M149.5 301.9v1.2M150.5 301.9v1.2M151.5 301.9v1.2M152.5 301.9v1.2M153.5 301.9v1.2M154.5 301.9v1.2M155.5 301.9v1.2M156.5 301.9v1.2M157.5 301.9v1.2M158.5 301.9v1.2M159.5 301.9v1.2M160.5 299.9v3.2M161.5 222.9v78.2M162.5 120.9v103.2M163.5 122.9v99.2M164.5 220.9v80.2M165.5 299.9v3.2M166.5 301.9v2.2M167.5 302.9v1.2M168.5 302.9v1.2M169.5 302.9v2.2M170.5 303.9v1.2M171.5 303.9v1.2M172.5 303.9v1.2M173.5 303.9v1.2M174.5 303.9v1.2M175.5 303.9v1.2M176.5 303.9v1.2M177.5 303.9v1.2M178.5 303.9v1.2M179.5 303.9v1.2M180.5 303.9v1.2M181.5 303.9v1.2M182.5 301.9v3.2M183.5 254.9v48.2M184.5 200.9v55.2M185.5 198.9v26.2M186.5 223.9v71.2M187.5 293.9v12.2M188.5 304.9v2.2M189.5 305.9v1.2M190.5 305.9v2.2M191.5 306.9v1.2M192.5 306.9v1.2M193.5 306.9v2.2M194.5 307.9v1.2M195.5 307.9v1.2M196.5 307.9v2.2M197.5 308.9v1.2M198.5 308.9v1.2M199.5 308.9v1.2M200.5 308.9v2.2M201.5 309.9v1.2M202.5 309.9v1.2M203.5 309.9v1.2M204.5 309.9v1.2M205.5 309.9v1.2M206.5 309.9v1.2M207.5 309.9v1.2M208.5 309.9v1.2M209.5 309.9v2.2M210.5 310.9v1.2M211.5 310.9v1.2M212.5 310.9v1.2M213.5 310.9v1.2M214.5 310.9v1.2M215.5 310.9v1.2M216.5 310.9v1.2M217.5 310.9v1.2M218.5 310.9v1.2M219.5 310.9v1.2M220.5 310.9v1.2M221.5 310.9v1.2M222.5 310.9v1.2M223.5 310.9v1.2M224.5 310.9v1.2M225.5 310.9v1.2M226.5 310.9v2.2M227.5 311.9v1.2M228.5 311.9v1.2M229.5 311.9v1.2M230.5 311.9v1.2M231.5 311.9v2.2M232.5 312.9v1.2M233.5 312.9v1.2M234.5 312.9v1.2M235.5 312.9v1.2M236.5 312.9v1.2M237.5 312.9v1.2M238.5 312.9v2.2M239.5 313.9v1.2M240.5 313.9v1.2M241.5 313.9v1.2M242.5 313.9v1.2M243.5 313.9v2.2M244.5 314.9v1.2M245.5 314.9v1.2M246.5 314.9v1.2M247.5 314.9v1.2M248.5 314.9v1.2M249.5 314.9v1.2M250.5 314.9v1.2M251.5 313.9v2.2M252.5 312.9v2.2M253.5 296.9v17.2M254.5 193.9v104.2M255.5 136.9v58.2M256.5 136.9v56.2M257.5 191.9v107.2M258.5 297.9v16.2M259.5 312.9v2.2M260.5 313.9v1.2M261.5 313.9v1.2M262.5 313.9v1.2M263.5 313.9v1.2M264.5 313.9v1.2M265.5 313.9v1.2M266.5 313.9v2.2M267.5 314.9v1.2M268.5 314.9v1.2M269.5 313.9v2.2M270.5 313.9v1.2M271.5 313.9v1.2M272.5 313.9v1.2M273.5 313.9v1.2M274.5 313.9v1.2M275.5 313.9v1.2M276.5 313.9v1.2M277.5 313.9v1.2M278.5 313.9v1.2M279.5 312.9v2.2M280.5 312.9v1.2M281.5 312.9v1.2M282.5 312.9v1.2M283.5 312.9v1.2M284.5 312.9v1.2M285.5 311.9v2.2M286.5 311.9v1.2M287.5 311.9v1.2M288.5 311.9v1.2M289.5 311.9v1.2M290.5 311.9v1.2M291.5 311.9v1.2M292.5 310.9v2.2M293.5 310.9v1.2M294.5 310.9v1.2M295.5 310.9v1.2M296.5 309.9v2.2M297.5 296.9v14.2M298.5 255.9v42.2M299.5 241.9v15.2M300.5 241.9v22.2M301.5 262.9v40.2M302.5 301.9v9.2M303.5 309.9v2.2M304.5 310.9v1.2M305.5 310.9v1.2M306.5 310.9v1.2M307.5 310.9v1.2M308.5 310.9v1.2M309.5 309.9v2.2M310.5 309.9v1.2M311.5 295.9v15.2M312.5 245.9v51.2M313.5 212.9v34.2M314.5 210.9v8.2M315.5 217.9v48.2M316.5 264.9v41.2M317.5 304.9v6.2M318.5 309.9v2.2M319.5 310.9v1.2M320.5 310.9v1.2M321.5 310.9v1.2M322.5 310.9v1.2M323.5 310.9v1.2M324.5 310.9v1.2M325.5 310.9v1.2M326.5 310.9v1.2M327.5 310.9v1.2M328.5 310.9v1.2M329.5 310.9v1.2M330.5 310.9v1.2M331.5 310.9v1.2M332.5 310.9v1.2M333.5 309.9v2.2M334.5 309.9v1.2M335.5 308.9v2.2M336.5 308.9v1.2M337.5 307.9v2.2M338.5 306.9v2.2M339.5 305.9v2.2M340.5 304.9v2.2M341.5 303.9v2.2M342.5 302.9v2.2M343.5 301.9v2.2M344.5 300.9v2.2M345.5 299.9v2.2M346.5 298.9v2.2M347.5 297.9v2.2M348.5 296.9v2.2M349.5 295.9v2.2M350.5 295.9v1.2M351.5 295.9v1.2M352.5 295.9v2.2M353.5 296.9v2.2M354.5 297.9v4.2M355.5 300.9v3.2M356.5 302.9v3.2M357.5 304.9v2.2M358.5 305.9v2.2M359.5 306.9v1.2M360.5 305.9v2.2M361.5 303.9v3.2M362.5 281.9v23.2M363.5 185.9v97.2M364.5 78.9v108.2M365.5 56.9v23.2M366.5 56.9v45.2M367.5 100.9v120.2M368.5 219.9v75.2M369.5 293.9v13.2M370.5 305.9v3.2M371.5 307.9v2.2M372.5 308.9v2.2M373.5 309.9v2.2M374.5 310.9v2.2M375.5 311.9v1.2M376.5 311.9v2.2M377.5 312.9v1.2M378.5 312.9v1.2M379.5 312.9v2.2M380.5 313.9v1.2M381.5 313.9v1.2M382.5 313.9v1.2M383.5 313.9v1.2M384.5 313.9v1.2M385.5 313.9v1.2M386.5 313.9v1.2M387.5 313.9v1.2M388.5 313.9v1.2M389.5 313.9v1.2M390.5 313.9v1.2M391.5 313.9v1.2M392.5 313.9v1.2M393.5 313.9v1.2M394.5 313.9v1.2M395.5 313.9v1.2M396.5 313.9v1.2M397.5 313.9v1.2M398.5 312.9v2.2M399.5 309.9v4.2M400.5 303.9v7.2M401.5 297.9v7.2M402.5 294.9v4.2M403.5 294.9v1.2M404.5 294.9v3.2M405.5 296.9v6.2M406.5 301.9v7.2M407.5 307.9v5.2M408.5 311.9v3.2M409.5 313.9v1.2M410.5 313.9v1.2M411.5 311.9v3.2M412.5 305.9v7.2M413.5 293.9v13.2M414.5 282.9v12.2M415.5 279.9v4.2M416.5 279.9v2.2M417.5 280.9v8.2M418.5 287.9v13.2M419.5 299.9v11.2M420.5 309.9v5.2M421.5 313.9v1.2M422.5 313.9v1.2M423.5 313.9v1.2M424.5 313.9v1.2M425.5 313.9v1.2M426.5 313.9v1.2M427.5 313.9v1.2M428.5 313.9v1.2M429.5 313.9v1.2M430.5 313.9v2.2M431.5 314.9v1.2M432.5 314.9v1.2M433.5 314.9v1.2M434.5 314.9v1.2M435.5 314.9v1.2M436.5 314.9v1.2M437.5 314.9v1.2M438.5 314.9v1.2M439.5 314.9v1.2M440.5 314.9v1.2M441.5 314.9v1.2M442.5 314.9v2.2M443.5 315.9v1.2M444.5 315.9v1.2M445.5 315.9v1.2M446.5 315.9v1.2M447.5 315.9v1.2M448.5 315.9v1.2M449.5 315.9v1.2M450.5 315.9v1.2M451.5 315.9v1.2M452.5 315.9v1.2M453.5 315.9v1.2M454.5 315.9v1.2M455.5 315.9v1.2M456.5 315.9v1.2M457.5 314.9v2.2M458.5 310.9v5.2M459.5 301.9v10.2M460.5 286.9v16.2M461.5 268.9v19.2M462.5 255.9v14.2M463.5 249.9v7.2M464.5 249.9v1.2M465.5 249.9v4.2M466.5 252.9v11.2M467.5 262.9v17.2M468.5 278.9v18.2M469.5 295.9v13.2M470.5 307.9v6.2M471.5 312.9v3.2M472.5 314.9v1.2M473.5 314.9v1.2M474.5 314.9v1.2M475.5 314.9v1.2M476.5 314.9v1.2M477.5 314.9v2.2M478.5 315.9v1.2M479.5 315.9v1.2M480.5 315.9v1.2M481.5 315.9v1.2M482.5 315.9v1.2M483.5 315.9v1.2M484.5 315.9v1.2M485.5 315.9v1.2M486.5 315.9v1.2M487.5 315.9v1.2M488.5 315.9v1.2M489.5 315.9v1.2M490.5 315.9v1.2M491.5 315.9v1.2M492.5 315.9v1.2M493.5 314.9v2.2M494.5 314.9v1.2M495.5 314.9v1.2M496.5 312.9v3.2M497.5 310.9v3.2M498.5 308.9v3.2M499.5 306.9v3.2M500.5 305.9v2.2M501.5 305.9v1.2M502.5 305.9v1.2M503.5 305.9v1.2M504.5 305.9v3.2M505.5 307.9v2.2M506.5 308.9v3.2M507.5 310.9v2.2M508.5 311.9v2.2M509.5 312.9v1.2M510.5 312.9v1.2M511.5 312.9v1.2M512.5 312.9v1.2M513.5 312.9v1.2M514.5 312.9v1.2M515.5 312.9v1.2M516.5 312.9v1.2M517.5 312.9v1.2M518.5 312.9v1.2M519.5 312.9v1.2M520.5 312.9v1.2M521.5 312.9v1.2M522.5 312.9v1.2M523.5 312.9v1.2M524.5 312.9v1.2M525.5 312.9v1.2M526.5 312.9v1.2M527.5 312.9v1.2M528.5 312.9v1.2M529.5 312.9v1.2M530.5 312.9v1.2M531.5 312.9v1.2M532.5 312.9v1.2M533.5 312.9v1.2M534.5 312.9v1.2M535.5 312.9v1.2M536.5 312.9v1.2M537.5 312.9v1.2M538.5 312.9v1.2M539.5 311.9v2.2M540.5 311.9v1.2M541.5 311.9v1.2M542.5 311.9v1.2M543.5 311.9v1.2M544.5 311.9v1.2M545.5 311.9v1.2M546.5 311.9v1.2M547.5 311.9v1.2M548.5 311.9v2.2M549.5 312.9v2.2M550.5 313.9v3.2M551.5 315.9v2.2M552.5 316.9v1.2M553.5 316.9v1.2M554.5 315.9v2.2M555.5 313.9v3.2M556.5 311.9v3.2M557.5 309.9v3.2M558.5 305.9v5.2M559.5 299.9v7.2M560.5 288.9v12.2M561.5 273.9v16.2M562.5 255.9v19.2M563.5 234.9v22.2M564.5 215.9v20.2M565.5 199.9v17.2M566.5 188.9v12.2M567.5 183.9v6.2M568.5 183.9v1.2M569.5 183.9v4.2M570.5 186.9v10.2M571.5 195.9v15.2M572.5 209.9v20.2M573.5 228.9v22.2M574.5 249.9v21.2M575.5 269.9v17.2M576.5 285.9v14.2M577.5 298.9v9.2M578.5 306.9v7.2M579.5 312.9v4.2M580.5 315.9v4.2M581.5 318.9v2.2M582.5 319.9v1.2M583.5 319.9v1.2M584.5 319.9v1.2M585.5 318.9v2.2M586.5 316.9v3.2M587.5 315.9v2.2M588.5 315.9v1.2M589.5 315.9v1.2M590.5 314.9v2.2M591.5 314.9v1.2M592.5 314.9v1.2M593.5 314.9v1.2M594.5 313.9v2.2M595.5 313.9v1.2M596.5 313.9v1.2M597.5 312.9v2.2M598.5 312.9v1.2M599.5 311.9v2.2M600.5 311.9v1.2M601.5 310.9v2.2M602.5 310.9v1.2M603.5 309.9v2.2M604.5 309.9v1.2M605.5 308.9v2.2M606.5 308.9v1.2M607.5 307.9v2.2M608.5 307.9v1.2M609.5 306.9v2.2M610.5 306.9v1.2M611.5 306.9v1.2M612.5 306.9v1.2M613.5 306.9v1.2M614.5 306.9v1.2M615.5 306.9v1.2M616.5 306.9v1.2M617.5 306.9v1.2M618.5 306.9v1.2M619.5 306.9v1.2M620.5 306.9v1.2M621.5 305.9v2.2M622.5 305.9v1.2M623.5 305.9v1.2M624.5 304.9v2.2M625.5 303.9v2.2M626.5 303.9v1.2M627.5 302.9v2.2M628.5 302.9v1.2M629.5 302.9v1.2M630.5 302.9v2.2M631.5 303.9v1.2M632.5 303.9v2.2M633.5 304.9v2.2M634.5 305.9v3.2M635.5 307.9v2.2M636.5 308.9v2.2M637.5 309.9v3.2M638.5 311.9v2.2M639.5 312.9v2.2M640.5 313.9v2.2M641.5 314.9v1.2M642.5 314.9v2.2M643.5 315.9v1.2M644.5 315.9v1.2M645.5 315.9v2.2M646.5 316.9v1.2M647.5 316.9v1.2M648.5 316.9v1.2M649.5 316.9v1.2M650.5 316.9v1.2M651.5 316.9v1.2M652.5 316.9v1.2M653.5 316.9v1.2M654.5 316.9v1.2M655.5 316.9v1.2M656.5 316.9v1.2M657.5 316.9v1.2M658.5 316.9v1.2"/>
<path id="ga" d="M185.5 346v9M255.5 346v9M313.5 346v9M366.5 346v9M415.5 346v9M465.5 346v9M568.5 346v9M630.5 346v9M163.5 363v8M300.5 363v8M403.5 363v8M501.5 363v8M613.5 363v8"/>
<path id="da" d="M76.5 404v1M77.5 404v2M78.5 405v1M79.5 404v2M80.5 403v2M81.5 403v4M82.5 403v3M83.5 405v2M84.5 404v2M85.5 404v1M86.5 404v2M87.5 403v4M88.5 403v2M89.5 404v2M90.5 403v3M91.5 404v2M92.5 402v4M93.5 402v4M94.5 404v3M95.5 403v2M96.5 404v3M97.5 403v3M98.5 403v4M99.5 405v2M100.5 403v3M101.5 403v3M102.5 404v2M103.5 404v2M104.5 403v2M105.5 403v2M106.5 403v2M107.5 403v2M108.5 403v2M109.5 404v3M110.5 403v3M111.5 404v2M112.5 404v3M113.5 403v2M114.5 403v2M115.5 403v2M116.5 404v2M117.5 404v2M118.5 403v3M119.5 403v3M120.5 402v3M121.5 403v3M122.5 402v5M123.5 403v3M124.5 404v2M125.5 403v3M126.5 402v5M127.5 405v3M128.5 403v4M129.5 405v1M130.5 403v3M131.5 402v3M132.5 403v2M133.5 403v2M134.5 404v3M135.5 404v2M136.5 404v2M137.5 403v3M138.5 403v3M139.5 404v3M140.5 403v2M141.5 403v3M142.5 405v2M143.5 404v2M144.5 404v2M145.5 404v2M146.5 404v2M147.5 403v2M148.5 403v2M149.5 403v2M150.5 403v3M151.5 403v3M152.5 405v2M153.5 404v2M154.5 403v3M155.5 402v4M156.5 404v3M157.5 403v2M158.5 403v2M159.5 403v3M160.5 404v2M161.5 402v4M162.5 400v9M163.5 400v25M164.5 405v16M165.5 403v3M166.5 404v1M167.5 404v2M168.5 403v3M169.5 404v2M170.5 405v2M171.5 404v2M172.5 403v2M173.5 403v2M174.5 404v2M175.5 403v2M176.5 403v4M177.5 405v2M178.5 404v2M179.5 404v3M180.5 403v3M181.5 405v2M182.5 403v3M183.5 400v7M184.5 401v6M185.5 406v3M186.5 405v5M187.5 405v2M188.5 404v2M189.5 404v2M190.5 403v4M191.5 403v5M192.5 404v2M193.5 403v3M194.5 404v2M195.5 404v2M196.5 404v2M197.5 403v3M198.5 403v3M199.5 402v3M200.5 403v2M201.5 403v3M202.5 403v3M203.5 404v2M204.5 403v3M205.5 404v2M206.5 404v2M207.5 404v1M208.5 404v3M209.5 403v2M210.5 403v2M211.5 402v2M212.5 400v3M213.5 399v3M214.5 400v2M215.5 400v2M216.5 400v2M217.5 400v2M218.5 401v2M219.5 402v2M220.5 403v2M221.5 403v2M222.5 404v1M223.5 403v3M224.5 403v3M225.5 404v2M226.5 404v2M227.5 404v1M228.5 402v4M229.5 403v2M230.5 403v1M231.5 403v2M232.5 403v2M233.5 404v2M234.5 404v2M235.5 404v1M236.5 403v3M237.5 404v2M238.5 404v2M239.5 403v2M240.5 403v3M241.5 404v3M242.5 404v1M243.5 404v2M244.5 404v3M245.5 404v2M246.5 403v3M247.5 404v1M248.5 403v3M249.5 404v1M250.5 404v1M251.5 403v2M252.5 403v2M253.5 399v6M254.5 397v20M255.5 416v11M256.5 411v17M257.5 392v20M258.5 395v9M259.5 403v2M260.5 403v2M261.5 402v4M262.5 403v2M263.5 403v2M264.5 403v2M265.5 404v2M266.5 403v2M267.5 403v3M268.5 403v3M269.5 404v2M270.5 404v2M271.5 404v2M272.5 404v2M273.5 404v2M274.5 403v2M275.5 403v3M276.5 403v3M277.5 402v3M278.5 403v3M279.5 403v2M280.5 402v4M281.5 403v3M282.5 403v3M283.5 403v3M284.5 404v3M285.5 404v1M286.5 403v3M287.5 403v3M288.5 403v3M289.5 405v1M290.5 403v3M291.5 403v2M292.5 403v3M293.5 404v3M294.5 404v2M295.5 403v4M296.5 403v3M297.5 405v4M298.5 398v15M299.5 398v5M300.5 401v2M301.5 387v20M302.5 401v6M303.5 404v2M304.5 403v3M305.5 403v3M306.5 402v4M307.5 404v2M308.5 403v2M309.5 403v2M310.5 402v3M311.5 403v4M312.5 405v9M313.5 404v7M314.5 401v4M315.5 386v23M316.5 385v17M317.5 401v5M318.5 404v3M319.5 404v3M320.5 404v3M321.5 403v3M322.5 404v2M323.5 404v2M324.5 404v1M325.5 403v3M326.5 403v2M327.5 404v1M328.5 403v3M329.5 403v2M330.5 403v2M331.5 403v2M332.5 404v2M333.5 403v3M334.5 403v3M335.5 404v2M336.5 404v2M337.5 404v1M338.5 404v1M339.5 403v2M340.5 403v3M341.5 403v2M342.5 403v3M343.5 402v3M344.5 402v3M345.5 403v3M346.5 402v3M347.5 403v2M348.5 402v2M349.5 402v2M350.5 400v3M351.5 401v3M352.5 401v3M353.5 403v2M354.5 403v2M355.5 403v2M356.5 403v1M357.5 403v3M358.5 404v1M359.5 403v2M360.5 403v2M361.5 403v2M362.5 392v12M363.5 382v11M364.5 380v42M365.5 413v3M366.5 396v22M367.5 374v31M368.5 386v12M369.5 397v9M370.5 404v2M371.5 403v3M372.5 403v2M373.5 404v1M374.5 404v1M375.5 404v2M376.5 403v3M377.5 403v2M378.5 403v3M379.5 403v3M380.5 404v2M381.5 404v1M382.5 403v3M383.5 404v2M384.5 403v3M385.5 403v3M386.5 403v3M387.5 403v2M388.5 403v2M389.5 403v2M390.5 403v3M391.5 404v2M392.5 404v2M393.5 404v2M394.5 403v3M395.5 403v3M396.5 405v2M397.5 404v2M398.5 403v2M399.5 404v3M400.5 402v5M401.5 402v5M402.5 403v3M403.5 404v1M404.5 403v3M405.5 404v3M406.5 403v3M407.5 402v2M408.5 403v3M409.5 403v2M410.5 403v3M411.5 403v3M412.5 403v5M413.5 407v3M414.5 400v8M415.5 402v4M416.5 403v5M417.5 402v5M418.5 402v4M419.5 402v2M420.5 403v3M421.5 404v3M422.5 404v1M423.5 403v2M424.5 404v1M425.5 404v2M426.5 405v1M427.5 405v1M428.5 404v3M429.5 403v2M430.5 403v3M431.5 404v2M432.5 404v1M433.5 403v2M434.5 403v2M435.5 404v1M436.5 403v2M437.5 403v4M438.5 404v2M439.5 403v3M440.5 403v3M441.5 404v2M442.5 404v3M443.5 403v3M444.5 403v4M445.5 402v3M446.5 404v3M447.5 404v2M448.5 404v2M449.5 404v2M450.5 404v2M451.5 403v2M452.5 403v3M453.5 404v2M454.5 404v1M455.5 404v2M456.5 404v2M457.5 404v2M458.5 403v3M459.5 404v5M460.5 398v11M461.5 400v7M462.5 404v4M463.5 403v2M464.5 403v2M465.5 401v6M466.5 401v7M467.5 402v12M468.5 400v6M469.5 403v4M470.5 402v5M471.5 403v3M472.5 405v1M473.5 405v1M474.5 405v2M475.5 403v3M476.5 404v2M477.5 403v2M478.5 403v2M479.5 403v3M480.5 404v2M481.5 403v2M482.5 403v2M483.5 403v2M484.5 403v2M485.5 404v3M486.5 403v3M487.5 403v1M488.5 403v3M489.5 404v1M490.5 404v2M491.5 404v2M492.5 404v2M493.5 403v2M494.5 403v3M495.5 403v4M496.5 404v2M497.5 403v2M498.5 403v3M499.5 402v4M500.5 403v2M501.5 404v2M502.5 404v1M503.5 402v4M504.5 405v2M505.5 403v3M506.5 403v2M507.5 404v2M508.5 403v2M509.5 403v2M510.5 404v1M511.5 403v4M512.5 403v3M513.5 405v2M514.5 404v2M515.5 403v3M516.5 404v2M517.5 404v2M518.5 403v3M519.5 403v3M520.5 404v1M521.5 403v2M522.5 403v3M523.5 405v2M524.5 404v2M525.5 404v1M526.5 403v2M527.5 404v1M528.5 403v3M529.5 404v2M530.5 404v1M531.5 404v1M532.5 404v2M533.5 403v3M534.5 403v2M535.5 404v1M536.5 404v2M537.5 404v2M538.5 404v3M539.5 404v2M540.5 404v2M541.5 403v2M542.5 403v2M543.5 403v1M544.5 401v4M545.5 403v3M546.5 405v2M547.5 405v2M548.5 405v2M549.5 405v2M550.5 403v3M551.5 401v3M552.5 401v1M553.5 400v2M554.5 400v5M555.5 403v3M556.5 405v4M557.5 408v3M558.5 409v3M559.5 405v5M560.5 403v3M561.5 396v8M562.5 394v6M563.5 394v7M564.5 398v12M565.5 405v4M566.5 402v5M567.5 406v7M568.5 410v4M569.5 408v3M570.5 399v10M571.5 396v5M572.5 398v5M573.5 397v4M574.5 398v9M575.5 403v5M576.5 405v7M577.5 409v2M578.5 408v2M579.5 405v4M580.5 401v5M581.5 399v3M582.5 398v3M583.5 398v2M584.5 399v3M585.5 401v4M586.5 404v2M587.5 405v2M588.5 405v2M589.5 404v2M590.5 403v2M591.5 402v2M592.5 403v2M593.5 402v2M594.5 401v3M595.5 403v3M596.5 404v2M597.5 405v1M598.5 405v2M599.5 405v2M600.5 405v3M601.5 405v2M602.5 405v2M603.5 404v2M604.5 403v2M605.5 401v3M606.5 400v2M607.5 400v2M608.5 399v3M609.5 400v2M610.5 400v3M611.5 399v3M612.5 401v1M613.5 400v2M614.5 400v1M615.5 399v2M616.5 399v3M617.5 399v3M618.5 399v3M619.5 401v1M620.5 401v2M621.5 402v2M622.5 403v2M623.5 404v2M624.5 405v2M625.5 406v2M626.5 406v2M627.5 407v2M628.5 405v4M629.5 406v3M630.5 406v2M631.5 405v4M632.5 405v2M633.5 404v4M634.5 403v3M635.5 404v2M636.5 403v4M637.5 403v4M638.5 404v3M639.5 404v3M640.5 404v2M641.5 404v2M642.5 403v4M643.5 404v3M644.5 403v2M645.5 403v2M646.5 404v2M647.5 404v2M648.5 403v3M649.5 403v2M650.5 404v2M651.5 403v2M652.5 404v2M653.5 404v2M654.5 404v2M655.5 404v2M656.5 404v1M657.5 404v1M658.5 404v1"/>
</defs>
<g clip-path="url(#clipa)"><g transform="scale(3)" fill="none">
<use href="#ra" stroke="#ff0000" stroke-width="1.7" stroke-opacity="0.3"/>
<use href="#ra" stroke="#ff0000" stroke-width="1"/>
<use href="#ka" stroke="#000" stroke-width="1.75" stroke-opacity="0.2"/>
<use href="#ka" stroke="#000" stroke-width="1.25" stroke-opacity="0.88"/>
<use href="#ga" stroke="#1f9a28" stroke-width="1.8" stroke-opacity="0.35"/>
<use href="#ga" stroke="#1f9a28" stroke-width="0.9"/>
<use href="#da" stroke="#0000ff" stroke-width="1.7" stroke-opacity="0.3"/>
<use href="#da" stroke="#0000ff" stroke-width="1"/>
</g></g><defs>
<clipPath id="clipb"><rect x="232.0" y="1640.0" width="1740.0" height="1291.0"/></clipPath>
<path id="rb" d="M72 818.5h9M76.5 814v9M73 817.5h9M77.5 813v9M73 820.5h9M77.5 816v9M74 818.5h9M78.5 814v9M75 820.5h9M79.5 816v9M75 818.5h9M79.5 814v9M76 819.5h9M80.5 815v9M76 818.5h9M80.5 814v9M77 819.5h9M81.5 815v9M78 820.5h9M82.5 816v9M78 818.5h9M82.5 814v9M79 820.5h9M83.5 816v9M79 821.5h9M83.5 817v9M80 820.5h9M84.5 816v9M80 819.5h9M84.5 815v9M81 818.5h9M85.5 814v9M81 821.5h9M85.5 817v9M82 822.5h9M86.5 818v9M82 821.5h9M86.5 817v9M83 820.5h9M87.5 816v9M83 822.5h9M87.5 818v9M84 822.5h9M88.5 818v9M84 823.5h9M88.5 819v9M85 822.5h9M89.5 818v9M85 823.5h9M89.5 819v9M86 821.5h9M90.5 817v9M86 824.5h9M90.5 820v9M87 823.5h9M91.5 819v9M87 824.5h9M91.5 820v9M88 824.5h9M92.5 820v9M88 823.5h9M92.5 819v9M89 824.5h9M93.5 820v9M89 823.5h9M93.5 819v9M89 822.5h9M93.5 818v9M90 824.5h9M94.5 820v9M90 825.5h9M94.5 821v9M91 824.5h9M95.5 820v9M91 826.5h9M95.5 822v9M92 825.5h9M96.5 821v9M92 826.5h9M96.5 822v9M93 825.5h9M97.5 821v9M93 824.5h9M97.5 820v9M94 827.5h9M98.5 823v9M94 826.5h9M98.5 822v9M95 826.5h9M99.5 822v9M96 827.5h9M100.5 823v9M97 825.5h9M101.5 821v9M97 828.5h9M101.5 824v9M98 826.5h9M102.5 822v9M98 827.5h9M102.5 823v9M99 828.5h9M103.5 824v9M99 827.5h9M103.5 823v9M100 829.5h9M104.5 825v9M101 829.5h9M105.5 825v9M101 830.5h9M105.5 826v9M102 828.5h9M106.5 824v9M102 827.5h9M106.5 823v9M103 830.5h9M107.5 826v9M103 831.5h9M107.5 827v9M104 831.5h9M108.5 827v9M104 830.5h9M108.5 826v9M105 831.5h9M109.5 827v9M105 829.5h9M109.5 825v9M106 830.5h9M110.5 826v9M107 832.5h9M111.5 828v9M107 831.5h9M111.5 827v9M108 833.5h9M112.5 829v9M108 832.5h9M112.5 828v9M109 830.5h9M113.5 826v9M109 834.5h9M113.5 830v9M109 831.5h9M113.5 827v9M110 833.5h9M114.5 829v9M110 834.5h9M114.5 830v9M111 832.5h9M115.5 828v9M111 831.5h9M115.5 827v9M112 833.5h9M116.5 829v9M113 832.5h9M117.5 828v9M113 833.5h9M117.5 829v9M114 834.5h9M118.5 830v9M114 833.5h9M118.5 829v9M115 834.5h9M119.5 830v9M115 835.5h9M119.5 831v9M116 835.5h9M120.5 831v9M117 835.5h9M121.5 831v9M117 833.5h9M121.5 829v9M118 835.5h9M122.5 831v9M119 834.5h9M123.5 830v9M120 834.5h9M124.5 830v9M120 835.5h9M124.5 831v9M121 835.5h9M125.5 831v9M122 835.5h9M126.5 831v9M122 837.5h9M126.5 833v9M123 836.5h9M127.5 832v9M123 838.5h9M127.5 834v9M124 836.5h9M128.5 832v9M124 837.5h9M128.5 833v9M125 836.5h9M129.5 832v9M125 837.5h9M129.5 833v9M126 837.5h9M130.5 833v9M127 837.5h9M131.5 833v9M128 837.5h9M132.5 833v9M128 839.5h9M132.5 835v9M129 839.5h9M133.5 835v9M129 837.5h9M133.5 833v9M130 839.5h9M134.5 835v9M130 838.5h9M134.5 834v9M131 839.5h9M135.5 835v9M131 838.5h9M135.5 834v9M132 837.5h9M136.5 833v9M132 839.5h9M136.5 835v9M133 839.5h9M137.5 835v9M133 838.5h9M137.5 834v9M133 837.5h9M137.5 833v9M134 839.5h9M138.5 835v9M134 838.5h9M138.5 834v9M135 839.5h9M139.5 835v9M135 840.5h9M139.5 836v9M136 840.5h9M140.5 836v9M136 839.5h9M140.5 835v9M137 840.5h9M141.5 836v9M138 839.5h9M142.5 835v9M138 838.5h9M142.5 834v9M138 840.5h9M142.5 836v9M139 840.5h9M143.5 836v9M139 842.5h9M143.5 838v9M140 841.5h9M144.5 837v9M140 840.5h9M144.5 836v9M141 841.5h9M145.5 837v9M141 839.5h9M145.5 835v9M142 840.5h9M146.5 836v9M143 842.5h9M147.5 838v9M143 841.5h9M147.5 837v9M143 838.5h9M147.5 834v9M144 842.5h9M148.5 838v9M144 840.5h9M148.5 836v9M145 841.5h9M149.5 837v9M145 840.5h9M149.5 836v9M146 841.5h9M150.5 837v9M147 841.5h9M151.5 837v9M147 840.5h9M151.5 836v9M148 842.5h9M152.5 838v9M148 841.5h9M152.5 837v9M149 842.5h9M153.5 838v9M149 841.5h9M153.5 837v9M150 843.5h9M154.5 839v9M150 842.5h9M154.5 838v9M151 842.5h9M155.5 838v9M152 841.5h9M156.5 837v9M153 842.5h9M157.5 838v9M153 843.5h9M157.5 839v9M154 842.5h9M158.5 838v9M154 840.5h9M158.5 836v9M155 839.5h9M159.5 835v9M155 815.5h9M159.5 811v9M156 764.5h9M160.5 760v9M156 703.5h9M160.5 699v9M157 667.5h9M161.5 663v9M157 674.5h9M161.5 670v9M158 698.5h9M162.5 694v9M158 769.5h9M162.5 765v9M158 812.5h9M162.5 808v9M159 839.5h9M163.5 835v9M159 842.5h9M163.5 838v9M160 844.5h9M164.5 840v9M160 845.5h9M164.5 841v9M161 845.5h9M165.5 841v9M161 844.5h9M165.5 840v9M162 844.5h9M166.5 840v9M163 845.5h9M167.5 841v9M164 846.5h9M168.5 842v9M165 846.5h9M169.5 842v9M165 847.5h9M169.5 843v9M166 846.5h9M170.5 842v9M167 845.5h9M171.5 841v9M168 846.5h9M172.5 842v9M168 845.5h9M172.5 841v9M169 847.5h9M173.5 843v9M169 846.5h9M173.5 842v9M170 846.5h9M174.5 842v9M171 847.5h9M175.5 843v9M171 846.5h9M175.5 842v9M172 847.5h9M176.5 843v9M173 847.5h9M177.5 843v9M174 847.5h9M178.5 843v9M174 848.5h9M178.5 844v9M175 846.5h9M179.5 842v9M175 847.5h9M179.5 843v9M176 846.5h9M180.5 842v9M176 844.5h9M180.5 840v9M177 833.5h9M181.5 829v9M177 800.5h9M181.5 796v9M178 760.5h9M182.5 756v9M178 721.5h9M182.5 717v9M178 709.5h9M182.5 705v9M179 712.5h9M183.5 708v9M179 722.5h9M183.5 718v9M180 762.5h9M184.5 758v9M180 802.5h9M184.5 798v9M181 835.5h9M185.5 831v9M181 844.5h9M185.5 840v9M182 847.5h9M186.5 843v9M182 849.5h9M186.5 845v9M183 848.5h9M187.5 844v9M183 849.5h9M187.5 845v9M184 849.5h9M188.5 845v9M184 848.5h9M188.5 844v9M185 848.5h9M189.5 844v9M185 849.5h9M189.5 845v9M186 850.5h9M190.5 846v9M186 849.5h9M190.5 845v9M187 849.5h9M191.5 845v9M188 850.5h9M192.5 846v9M188 849.5h9M192.5 845v9M189 850.5h9M193.5 846v9M189 849.5h9M193.5 845v9M190 850.5h9M194.5 846v9M191 850.5h9M195.5 846v9M191 851.5h9M195.5 847v9M192 851.5h9M196.5 847v9M193 851.5h9M197.5 847v9M193 852.5h9M197.5 848v9M194 852.5h9M198.5 848v9M195 853.5h9M199.5 849v9M196 853.5h9M200.5 849v9M196 854.5h9M200.5 850v9M197 853.5h9M201.5 849v9M198 853.5h9M202.5 849v9M199 854.5h9M203.5 850v9M200 854.5h9M204.5 850v9M201 854.5h9M205.5 850v9M201 853.5h9M205.5 849v9M202 854.5h9M206.5 850v9M202 853.5h9M206.5 849v9M203 854.5h9M207.5 850v9M203 853.5h9M207.5 849v9M204 855.5h9M208.5 851v9M205 855.5h9M209.5 851v9M206 855.5h9M210.5 851v9M207 855.5h9M211.5 851v9M207 856.5h9M211.5 852v9M208 856.5h9M212.5 852v9M208 855.5h9M212.5 851v9M209 856.5h9M213.5 852v9M209 855.5h9M213.5 851v9M210 856.5h9M214.5 852v9M210 855.5h9M214.5 851v9M211 857.5h9M215.5 853v9M211 855.5h9M215.5 851v9M212 857.5h9M216.5 853v9M212 856.5h9M216.5 852v9M213 855.5h9M217.5 851v9M213 856.5h9M217.5 852v9M213 857.5h9M217.5 853v9M214 857.5h9M218.5 853v9M214 855.5h9M218.5 851v9M215 856.5h9M219.5 852v9M215 855.5h9M219.5 851v9M216 855.5h9M220.5 851v9M216 856.5h9M220.5 852v9M217 857.5h9M221.5 853v9M217 856.5h9M221.5 852v9M218 856.5h9M222.5 852v9M218 857.5h9M222.5 853v9M219 857.5h9M223.5 853v9M219 856.5h9M223.5 852v9M220 857.5h9M224.5 853v9M220 856.5h9M224.5 852v9M221 856.5h9M225.5 852v9M221 857.5h9M225.5 853v9M222 858.5h9M226.5 854v9M222 857.5h9M226.5 853v9M223 858.5h9M227.5 854v9M223 857.5h9M227.5 853v9M224 858.5h9M228.5 854v9M225 857.5h9M229.5 853v9M225 858.5h9M229.5 854v9M226 858.5h9M230.5 854v9M226 857.5h9M230.5 853v9M227 858.5h9M231.5 854v9M227 856.5h9M231.5 852v9M227 857.5h9M231.5 853v9M228 858.5h9M232.5 854v9M229 857.5h9M233.5 853v9M229 858.5h9M233.5 854v9M230 858.5h9M234.5 854v9M230 857.5h9M234.5 853v9M231 858.5h9M235.5 854v9M232 858.5h9M236.5 854v9M232 859.5h9M236.5 855v9M233 857.5h9M237.5 853v9M233 858.5h9M237.5 854v9M234 858.5h9M238.5 854v9M234 857.5h9M238.5 853v9M235 857.5h9M239.5 853v9M235 858.5h9M239.5 854v9M236 858.5h9M240.5 854v9M237 858.5h9M241.5 854v9M237 860.5h9M241.5 856v9M238 858.5h9M242.5 854v9M239 857.5h9M243.5 853v9M239 858.5h9M243.5 854v9M240 859.5h9M244.5 855v9M240 858.5h9M244.5 854v9M241 859.5h9M245.5 855v9M241 858.5h9M245.5 854v9M242 859.5h9M246.5 855v9M242 858.5h9M246.5 854v9M242 857.5h9M246.5 853v9M243 859.5h9M247.5 855v9M243 858.5h9M247.5 854v9M244 858.5h9M248.5 854v9M245 858.5h9M249.5 854v9M246 857.5h9M250.5 853v9M246 856.5h9M250.5 852v9M247 855.5h9M251.5 851v9M247 846.5h9M251.5 842v9M247 821.5h9M251.5 817v9M248 789.5h9M252.5 785v9M248 749.5h9M252.5 745v9M249 731.5h9M253.5 727v9M249 734.5h9M253.5 730v9M250 730.5h9M254.5 726v9M250 756.5h9M254.5 752v9M251 785.5h9M255.5 781v9M251 828.5h9M255.5 824v9M252 847.5h9M256.5 843v9M252 855.5h9M256.5 851v9M252 857.5h9M256.5 853v9M253 857.5h9M257.5 853v9M254 858.5h9M258.5 854v9M255 858.5h9M259.5 854v9M255 859.5h9M259.5 855v9M256 858.5h9M260.5 854v9M257 858.5h9M261.5 854v9M257 859.5h9M261.5 855v9M258 857.5h9M262.5 853v9M258 858.5h9M262.5 854v9M259 859.5h9M263.5 855v9M259 858.5h9M263.5 854v9M260 859.5h9M264.5 855v9M260 858.5h9M264.5 854v9M261 858.5h9M265.5 854v9M262 860.5h9M266.5 856v9M262 858.5h9M266.5 854v9M263 859.5h9M267.5 855v9M264 859.5h9M268.5 855v9M264 858.5h9M268.5 854v9M265 859.5h9M269.5 855v9M266 859.5h9M270.5 855v9M266 860.5h9M270.5 856v9M267 858.5h9M271.5 854v9M267 859.5h9M271.5 855v9M268 859.5h9M272.5 855v9M268 858.5h9M272.5 854v9M269 858.5h9M273.5 854v9M269 859.5h9M273.5 855v9M270 858.5h9M274.5 854v9M270 859.5h9M274.5 855v9M271 858.5h9M275.5 854v9M271 859.5h9M275.5 855v9M272 859.5h9M276.5 855v9M272 858.5h9M276.5 854v9M273 859.5h9M277.5 855v9M273 860.5h9M277.5 856v9M274 858.5h9M278.5 854v9M274 859.5h9M278.5 855v9M275 858.5h9M279.5 854v9M276 859.5h9M280.5 855v9M276 858.5h9M280.5 854v9M277 858.5h9M281.5 854v9M277 859.5h9M281.5 855v9M277 857.5h9M281.5 853v9M278 858.5h9M282.5 854v9M279 857.5h9M283.5 853v9M279 858.5h9M283.5 854v9M280 858.5h9M284.5 854v9M280 857.5h9M284.5 853v9M281 858.5h9M285.5 854v9M281 857.5h9M285.5 853v9M282 858.5h9M286.5 854v9M282 857.5h9M286.5 853v9M282 856.5h9M286.5 852v9M283 857.5h9M287.5 853v9M284 857.5h9M288.5 853v9M284 856.5h9M288.5 852v9M285 856.5h9M289.5 852v9M286 857.5h9M290.5 853v9M286 856.5h9M290.5 852v9M287 857.5h9M291.5 853v9M287 855.5h9M291.5 851v9M287 856.5h9M291.5 852v9M288 856.5h9M292.5 852v9M289 855.5h9M293.5 851v9M289 854.5h9M293.5 850v9M290 850.5h9M294.5 846v9M290 851.5h9M294.5 847v9M291 823.5h9M295.5 819v9M291 817.5h9M295.5 813v9M292 807.5h9M296.5 803v9M292 785.5h9M296.5 781v9M292 784.5h9M296.5 780v9M293 786.5h9M297.5 782v9M293 794.5h9M297.5 790v9M294 814.5h9M298.5 810v9M294 829.5h9M298.5 825v9M295 849.5h9M299.5 845v9M295 853.5h9M299.5 849v9M296 856.5h9M300.5 852v9M296 853.5h9M300.5 849v9M297 855.5h9M301.5 851v9M297 854.5h9M301.5 850v9M298 855.5h9M302.5 851v9M299 855.5h9M303.5 851v9M299 854.5h9M303.5 850v9M300 855.5h9M304.5 851v9M300 854.5h9M304.5 850v9M301 855.5h9M305.5 851v9M301 854.5h9M305.5 850v9M302 854.5h9M306.5 850v9M302 853.5h9M306.5 849v9M303 852.5h9M307.5 848v9M303 848.5h9M307.5 844v9M304 827.5h9M308.5 823v9M304 819.5h9M308.5 815v9M305 787.5h9M309.5 783v9M305 758.5h9M309.5 754v9M306 745.5h9M310.5 741v9M307 745.5h9M311.5 741v9M307 766.5h9M311.5 762v9M307 769.5h9M311.5 765v9M308 790.5h9M312.5 786v9M308 821.5h9M312.5 817v9M309 848.5h9M313.5 844v9M309 851.5h9M313.5 847v9M310 853.5h9M314.5 849v9M311 854.5h9M315.5 850v9M311 853.5h9M315.5 849v9M312 855.5h9M316.5 851v9M312 854.5h9M316.5 850v9M312 853.5h9M316.5 849v9M313 852.5h9M317.5 848v9M313 853.5h9M317.5 849v9M314 853.5h9M318.5 849v9M314 854.5h9M318.5 850v9M315 854.5h9M319.5 850v9M315 855.5h9M319.5 851v9M316 854.5h9M320.5 850v9M316 853.5h9M320.5 849v9M317 855.5h9M321.5 851v9M317 854.5h9M321.5 850v9M317 853.5h9M321.5 849v9M318 853.5h9M322.5 849v9M318 852.5h9M322.5 848v9M319 853.5h9M323.5 849v9M320 854.5h9M324.5 850v9M320 853.5h9M324.5 849v9M321 853.5h9M325.5 849v9M322 852.5h9M326.5 848v9M323 851.5h9M327.5 847v9M323 852.5h9M327.5 848v9M324 851.5h9M328.5 847v9M324 852.5h9M328.5 848v9M325 851.5h9M329.5 847v9M325 850.5h9M329.5 846v9M326 851.5h9M330.5 847v9M326 852.5h9M330.5 848v9M327 849.5h9M331.5 845v9M327 850.5h9M331.5 846v9M328 849.5h9M332.5 845v9M329 849.5h9M333.5 845v9M329 848.5h9M333.5 844v9M330 849.5h9M334.5 845v9M331 848.5h9M335.5 844v9M331 849.5h9M335.5 845v9M332 848.5h9M336.5 844v9M333 848.5h9M337.5 844v9M334 848.5h9M338.5 844v9M335 847.5h9M339.5 843v9M335 848.5h9M339.5 844v9M336 848.5h9M340.5 844v9M336 847.5h9M340.5 843v9M337 847.5h9M341.5 843v9M337 848.5h9M341.5 844v9M338 847.5h9M342.5 843v9M338 848.5h9M342.5 844v9M339 848.5h9M343.5 844v9M339 847.5h9M343.5 843v9M340 847.5h9M344.5 843v9M341 848.5h9M345.5 844v9M341 847.5h9M345.5 843v9M342 848.5h9M346.5 844v9M343 848.5h9M347.5 844v9M343 849.5h9M347.5 845v9M344 848.5h9M348.5 844v9M345 849.5h9M349.5 845v9M345 850.5h9M349.5 846v9M346 850.5h9M350.5 846v9M346 852.5h9M350.5 848v9M346 851.5h9M350.5 847v9M347 850.5h9M351.5 846v9M347 851.5h9M351.5 847v9M348 851.5h9M352.5 847v9M349 849.5h9M353.5 845v9M349 851.5h9M353.5 847v9M350 851.5h9M354.5 847v9M350 852.5h9M354.5 848v9M351 849.5h9M355.5 845v9M351 851.5h9M355.5 847v9M351 850.5h9M355.5 846v9M352 850.5h9M356.5 846v9M352 849.5h9M356.5 845v9M353 849.5h9M357.5 845v9M353 842.5h9M357.5 838v9M354 833.5h9M358.5 829v9M354 801.5h9M358.5 797v9M355 771.5h9M359.5 767v9M355 704.5h9M359.5 700v9M356 657.5h9M360.5 653v9M356 602.5h9M360.5 598v9M356 596.5h9M360.5 592v9M357 597.5h9M361.5 593v9M357 589.5h9M361.5 585v9M358 609.5h9M362.5 605v9M358 635.5h9M362.5 631v9M359 669.5h9M363.5 665v9M359 754.5h9M363.5 750v9M360 786.5h9M364.5 782v9M360 833.5h9M364.5 829v9M361 842.5h9M365.5 838v9M361 848.5h9M365.5 844v9M362 850.5h9M366.5 846v9M362 851.5h9M366.5 847v9M363 850.5h9M367.5 846v9M364 851.5h9M368.5 847v9M364 852.5h9M368.5 848v9M365 853.5h9M369.5 849v9M365 854.5h9M369.5 850v9M366 854.5h9M370.5 850v9M366 852.5h9M370.5 848v9M366 851.5h9M370.5 847v9M367 853.5h9M371.5 849v9M367 854.5h9M371.5 850v9M368 852.5h9M372.5 848v9M368 853.5h9M372.5 849v9M369 853.5h9M373.5 849v9M369 854.5h9M373.5 850v9M370 854.5h9M374.5 850v9M371 855.5h9M375.5 851v9M371 854.5h9M375.5 850v9M372 856.5h9M376.5 852v9M372 854.5h9M376.5 850v9M373 854.5h9M377.5 850v9M373 855.5h9M377.5 851v9M374 856.5h9M378.5 852v9M374 855.5h9M378.5 851v9M375 856.5h9M379.5 852v9M375 855.5h9M379.5 851v9M376 856.5h9M380.5 852v9M376 855.5h9M380.5 851v9M377 856.5h9M381.5 852v9M378 857.5h9M382.5 853v9M379 856.5h9M383.5 852v9M379 858.5h9M383.5 854v9M380 856.5h9M384.5 852v9M380 858.5h9M384.5 854v9M381 859.5h9M385.5 855v9M381 858.5h9M385.5 854v9M382 858.5h9M386.5 854v9M383 857.5h9M387.5 853v9M383 858.5h9M387.5 854v9M384 857.5h9M388.5 853v9M385 857.5h9M389.5 853v9M386 856.5h9M390.5 852v9M386 858.5h9M390.5 854v9M386 857.5h9M390.5 853v9M387 856.5h9M391.5 852v9M387 858.5h9M391.5 854v9M388 857.5h9M392.5 853v9M389 857.5h9M393.5 853v9M389 854.5h9M393.5 850v9M390 850.5h9M394.5 846v9M390 851.5h9M394.5 847v9M391 849.5h9M395.5 845v9M391 845.5h9M395.5 841v9M391 843.5h9M395.5 839v9M392 842.5h9M396.5 838v9M392 840.5h9M396.5 836v9M393 839.5h9M397.5 835v9M394 839.5h9M398.5 835v9M395 841.5h9M399.5 837v9M395 840.5h9M399.5 836v9M396 843.5h9M400.5 839v9M396 847.5h9M400.5 843v9M397 851.5h9M401.5 847v9M397 855.5h9M401.5 851v9M398 855.5h9M402.5 851v9M398 856.5h9M402.5 852v9M399 856.5h9M403.5 852v9M400 855.5h9M404.5 851v9M400 856.5h9M404.5 852v9M401 855.5h9M405.5 851v9M401 854.5h9M405.5 850v9M401 851.5h9M405.5 847v9M402 844.5h9M406.5 840v9M402 840.5h9M406.5 836v9M403 837.5h9M407.5 833v9M403 821.5h9M407.5 817v9M404 818.5h9M408.5 814v9M404 815.5h9M408.5 811v9M405 812.5h9M409.5 808v9M405 807.5h9M409.5 803v9M406 809.5h9M410.5 805v9M406 807.5h9M410.5 803v9M407 811.5h9M411.5 807v9M407 813.5h9M411.5 809v9M408 819.5h9M412.5 815v9M408 823.5h9M412.5 819v9M409 837.5h9M413.5 833v9M409 841.5h9M413.5 837v9M410 847.5h9M414.5 843v9M410 851.5h9M414.5 847v9M411 853.5h9M415.5 849v9M411 855.5h9M415.5 851v9M412 856.5h9M416.5 852v9M413 856.5h9M417.5 852v9M413 857.5h9M417.5 853v9M414 854.5h9M418.5 850v9M414 855.5h9M418.5 851v9M415 854.5h9M419.5 850v9M415 856.5h9M419.5 852v9M416 856.5h9M420.5 852v9M417 856.5h9M421.5 852v9M417 857.5h9M421.5 853v9M418 856.5h9M422.5 852v9M419 855.5h9M423.5 851v9M419 856.5h9M423.5 852v9M420 856.5h9M424.5 852v9M421 856.5h9M425.5 852v9M422 857.5h9M426.5 853v9M422 855.5h9M426.5 851v9M423 855.5h9M427.5 851v9M423 856.5h9M427.5 852v9M424 856.5h9M428.5 852v9M425 856.5h9M429.5 852v9M426 856.5h9M430.5 852v9M426 855.5h9M430.5 851v9M426 857.5h9M430.5 853v9M427 856.5h9M431.5 852v9M427 857.5h9M431.5 853v9M428 857.5h9M432.5 853v9M429 859.5h9M433.5 855v9M429 856.5h9M433.5 852v9M430 857.5h9M434.5 853v9M431 858.5h9M435.5 854v9M431 857.5h9M435.5 853v9M432 858.5h9M436.5 854v9M432 857.5h9M436.5 853v9M433 858.5h9M437.5 854v9M434 857.5h9M438.5 853v9M435 858.5h9M439.5 854v9M436 858.5h9M440.5 854v9M436 857.5h9M440.5 853v9M437 857.5h9M441.5 853v9M438 859.5h9M442.5 855v9M438 858.5h9M442.5 854v9M439 858.5h9M443.5 854v9M439 857.5h9M443.5 853v9M440 858.5h9M444.5 854v9M440 857.5h9M444.5 853v9M441 858.5h9M445.5 854v9M441 857.5h9M445.5 853v9M442 857.5h9M446.5 853v9M443 858.5h9M447.5 854v9M444 858.5h9M448.5 854v9M444 857.5h9M448.5 853v9M445 857.5h9M449.5 853v9M445 858.5h9M449.5 854v9M446 857.5h9M450.5 853v9M447 856.5h9M451.5 852v9M447 857.5h9M451.5 853v9M448 854.5h9M452.5 850v9M449 851.5h9M453.5 847v9M449 847.5h9M453.5 843v9M450 844.5h9M454.5 840v9M450 836.5h9M454.5 832v9M450 827.5h9M454.5 823v9M451 821.5h9M455.5 817v9M451 818.5h9M455.5 814v9M452 815.5h9M456.5 811v9M452 811.5h9M456.5 807v9M453 813.5h9M457.5 809v9M453 811.5h9M457.5 807v9M454 812.5h9M458.5 808v9M454 813.5h9M458.5 809v9M455 812.5h9M459.5 808v9M455 816.5h9M459.5 812v9M455 824.5h9M459.5 820v9M456 827.5h9M460.5 823v9M456 834.5h9M460.5 830v9M457 839.5h9M461.5 835v9M457 841.5h9M461.5 837v9M458 850.5h9M462.5 846v9M458 851.5h9M462.5 847v9M459 852.5h9M463.5 848v9M459 854.5h9M463.5 850v9M460 855.5h9M464.5 851v9M461 855.5h9M465.5 851v9M462 855.5h9M466.5 851v9M462 854.5h9M466.5 850v9M463 856.5h9M467.5 852v9M463 855.5h9M467.5 851v9M464 856.5h9M468.5 852v9M465 854.5h9M469.5 850v9M465 857.5h9M469.5 853v9M465 856.5h9M469.5 852v9M466 856.5h9M470.5 852v9M466 854.5h9M470.5 850v9M467 856.5h9M471.5 852v9M468 855.5h9M472.5 851v9M468 856.5h9M472.5 852v9M469 856.5h9M473.5 852v9M469 855.5h9M473.5 851v9M470 855.5h9M474.5 851v9M470 857.5h9M474.5 853v9M470 856.5h9M474.5 852v9M471 856.5h9M475.5 852v9M471 857.5h9M475.5 853v9M472 856.5h9M476.5 852v9M473 856.5h9M477.5 852v9M473 855.5h9M477.5 851v9M474 856.5h9M478.5 852v9M475 855.5h9M479.5 851v9M475 856.5h9M479.5 852v9M476 856.5h9M480.5 852v9M477 856.5h9M481.5 852v9M478 856.5h9M482.5 852v9M478 855.5h9M482.5 851v9M479 855.5h9M483.5 851v9M479 856.5h9M483.5 852v9M480 854.5h9M484.5 850v9M480 856.5h9M484.5 852v9M480 858.5h9M484.5 854v9M481 854.5h9M485.5 850v9M481 856.5h9M485.5 852v9M482 854.5h9M486.5 850v9M482 856.5h9M486.5 852v9M483 856.5h9M487.5 852v9M484 854.5h9M488.5 850v9M484 853.5h9M488.5 849v9M485 852.5h9M489.5 848v9M485 853.5h9M489.5 849v9M486 851.5h9M490.5 847v9M487 850.5h9M491.5 846v9M488 849.5h9M492.5 845v9M488 847.5h9M492.5 843v9M489 849.5h9M493.5 845v9M489 846.5h9M493.5 842v9M490 849.5h9M494.5 845v9M490 848.5h9M494.5 844v9M491 848.5h9M495.5 844v9M492 849.5h9M496.5 845v9M493 849.5h9M497.5 845v9M493 851.5h9M497.5 847v9M494 851.5h9M498.5 847v9M494 853.5h9M498.5 849v9M495 852.5h9M499.5 848v9M495 853.5h9M499.5 849v9M495 854.5h9M499.5 850v9M496 855.5h9M500.5 851v9M496 854.5h9M500.5 850v9M497 854.5h9M501.5 850v9M497 855.5h9M501.5 851v9M498 854.5h9M502.5 850v9M499 855.5h9M503.5 851v9M499 854.5h9M503.5 850v9M500 853.5h9M504.5 849v9M500 854.5h9M504.5 850v9M500 855.5h9M504.5 851v9M501 855.5h9M505.5 851v9M502 855.5h9M506.5 851v9M502 854.5h9M506.5 850v9M503 855.5h9M507.5 851v9M504 854.5h9M508.5 850v9M504 855.5h9M508.5 851v9M505 854.5h9M509.5 850v9M505 855.5h9M509.5 851v9M506 854.5h9M510.5 850v9M506 856.5h9M510.5 852v9M507 854.5h9M511.5 850v9M507 855.5h9M511.5 851v9M508 854.5h9M512.5 850v9M508 855.5h9M512.5 851v9M509 855.5h9M513.5 851v9M510 856.5h9M514.5 852v9M510 855.5h9M514.5 851v9M510 854.5h9M514.5 850v9M511 853.5h9M515.5 849v9M511 854.5h9M515.5 850v9M512 854.5h9M516.5 850v9M513 854.5h9M517.5 850v9M513 855.5h9M517.5 851v9M514 855.5h9M518.5 851v9M514 856.5h9M518.5 852v9M515 855.5h9M519.5 851v9M515 853.5h9M519.5 849v9M515 854.5h9M519.5 850v9M516 852.5h9M520.5 848v9M516 854.5h9M520.5 850v9M517 854.5h9M521.5 850v9M517 853.5h9M521.5 849v9M518 854.5h9M522.5 850v9M519 854.5h9M523.5 850v9M519 855.5h9M523.5 851v9M520 857.5h9M524.5 853v9M520 855.5h9M524.5 851v9M521 855.5h9M525.5 851v9M521 854.5h9M525.5 850v9M522 856.5h9M526.5 852v9M522 854.5h9M526.5 850v9M523 855.5h9M527.5 851v9M523 854.5h9M527.5 850v9M524 855.5h9M528.5 851v9M524 854.5h9M528.5 850v9M525 855.5h9M529.5 851v9M525 854.5h9M529.5 850v9M526 855.5h9M530.5 851v9M526 854.5h9M530.5 850v9M527 854.5h9M531.5 850v9M527 855.5h9M531.5 851v9M528 855.5h9M532.5 851v9M529 852.5h9M533.5 848v9M529 854.5h9M533.5 850v9M530 852.5h9M534.5 848v9M530 853.5h9M534.5 849v9M531 853.5h9M535.5 849v9M531 851.5h9M535.5 847v9M532 852.5h9M536.5 848v9M533 853.5h9M537.5 849v9M533 852.5h9M537.5 848v9M534 855.5h9M538.5 851v9M534 854.5h9M538.5 850v9M535 854.5h9M539.5 850v9M535 856.5h9M539.5 852v9M536 856.5h9M540.5 852v9M536 854.5h9M540.5 850v9M537 854.5h9M541.5 850v9M537 855.5h9M541.5 851v9M538 853.5h9M542.5 849v9M538 854.5h9M542.5 850v9M539 855.5h9M543.5 851v9M539 854.5h9M543.5 850v9M540 854.5h9M544.5 850v9M541 855.5h9M545.5 851v9M541 854.5h9M545.5 850v9M542 854.5h9M546.5 850v9M543 855.5h9M547.5 851v9M543 852.5h9M547.5 848v9M544 850.5h9M548.5 846v9M544 848.5h9M548.5 844v9M545 846.5h9M549.5 842v9M545 840.5h9M549.5 836v9M545 833.5h9M549.5 829v9M546 828.5h9M550.5 824v9M546 820.5h9M550.5 816v9M547 814.5h9M551.5 810v9M547 800.5h9M551.5 796v9M548 795.5h9M552.5 791v9M548 781.5h9M552.5 777v9M549 771.5h9M553.5 767v9M549 764.5h9M553.5 760v9M549 751.5h9M553.5 747v9M550 749.5h9M554.5 745v9M550 733.5h9M554.5 729v9M551 730.5h9M555.5 726v9M551 722.5h9M555.5 718v9M552 718.5h9M556.5 714v9M552 712.5h9M556.5 708v9M553 701.5h9M557.5 697v9M553 698.5h9M557.5 694v9M554 702.5h9M558.5 698v9M554 696.5h9M558.5 692v9M554 700.5h9M558.5 696v9M555 697.5h9M559.5 693v9M555 693.5h9M559.5 689v9M556 697.5h9M560.5 693v9M556 700.5h9M560.5 696v9M557 707.5h9M561.5 703v9M557 717.5h9M561.5 713v9M558 730.5h9M562.5 726v9M558 741.5h9M562.5 737v9M559 754.5h9M563.5 750v9M559 758.5h9M563.5 754v9M559 779.5h9M563.5 775v9M560 790.5h9M564.5 786v9M560 801.5h9M564.5 797v9M561 810.5h9M565.5 806v9M561 825.5h9M565.5 821v9M562 832.5h9M566.5 828v9M562 838.5h9M566.5 834v9M563 848.5h9M567.5 844v9M563 850.5h9M567.5 846v9M564 853.5h9M568.5 849v9M565 853.5h9M569.5 849v9M566 853.5h9M570.5 849v9M567 852.5h9M571.5 848v9M567 853.5h9M571.5 849v9M568 851.5h9M572.5 847v9M568 853.5h9M572.5 849v9M569 853.5h9M573.5 849v9M569 855.5h9M573.5 851v9M569 854.5h9M573.5 850v9M570 856.5h9M574.5 852v9M571 857.5h9M575.5 853v9M572 857.5h9M576.5 853v9M573 857.5h9M577.5 853v9M573 858.5h9M577.5 854v9M574 856.5h9M578.5 852v9M574 857.5h9M578.5 853v9M575 857.5h9M579.5 853v9M576 855.5h9M580.5 851v9M577 857.5h9M581.5 853v9M577 855.5h9M581.5 851v9M578 855.5h9M582.5 851v9M579 855.5h9M583.5 851v9M579 856.5h9M583.5 852v9M580 855.5h9M584.5 851v9M580 856.5h9M584.5 852v9M581 855.5h9M585.5 851v9M582 856.5h9M586.5 852v9M582 855.5h9M586.5 851v9M583 856.5h9M587.5 852v9M583 855.5h9M587.5 851v9M584 855.5h9M588.5 851v9M584 854.5h9M588.5 850v9M585 854.5h9M589.5 850v9M585 855.5h9M589.5 851v9M586 853.5h9M590.5 849v9M586 855.5h9M590.5 851v9M587 855.5h9M591.5 851v9M588 856.5h9M592.5 852v9M588 854.5h9M592.5 850v9M589 856.5h9M593.5 852v9M589 854.5h9M593.5 850v9M590 854.5h9M594.5 850v9M590 855.5h9M594.5 851v9M591 855.5h9M595.5 851v9M592 853.5h9M596.5 849v9M592 855.5h9M596.5 851v9M593 855.5h9M597.5 851v9M593 854.5h9M597.5 850v9M594 856.5h9M598.5 852v9M594 855.5h9M598.5 851v9M595 855.5h9M599.5 851v9M595 854.5h9M599.5 850v9M596 855.5h9M600.5 851v9M597 854.5h9M601.5 850v9M597 853.5h9M601.5 849v9M598 853.5h9M602.5 849v9M598 854.5h9M602.5 850v9M599 853.5h9M603.5 849v9M599 854.5h9M603.5 850v9M599 852.5h9M603.5 848v9M600 852.5h9M604.5 848v9M600 851.5h9M604.5 847v9M601 850.5h9M605.5 846v9M602 849.5h9M606.5 845v9M602 847.5h9M606.5 843v9M603 847.5h9M607.5 843v9M603 848.5h9M607.5 844v9M604 846.5h9M608.5 842v9M604 845.5h9M608.5 841v9M604 844.5h9M608.5 840v9M605 843.5h9M609.5 839v9M605 844.5h9M609.5 840v9M606 842.5h9M610.5 838v9M606 841.5h9M610.5 837v9M607 842.5h9M611.5 838v9M607 840.5h9M611.5 836v9M608 839.5h9M612.5 835v9M609 836.5h9M613.5 832v9M609 838.5h9M613.5 834v9M610 836.5h9M614.5 832v9M611 836.5h9M615.5 832v9M612 836.5h9M616.5 832v9M613 837.5h9M617.5 833v9M613 838.5h9M617.5 834v9M614 838.5h9M618.5 834v9M614 839.5h9M618.5 835v9M615 839.5h9M619.5 835v9M615 841.5h9M619.5 837v9M616 842.5h9M620.5 838v9M616 844.5h9M620.5 840v9M617 843.5h9M621.5 839v9M617 847.5h9M621.5 843v9M618 845.5h9M622.5 841v9M618 847.5h9M622.5 843v9M619 849.5h9M623.5 845v9M619 848.5h9M623.5 844v9M619 850.5h9M623.5 846v9M620 850.5h9M624.5 846v9M620 851.5h9M624.5 847v9M621 851.5h9M625.5 847v9M621 853.5h9M625.5 849v9M622 854.5h9M626.5 850v9M623 855.5h9M627.5 851v9M623 856.5h9M627.5 852v9M624 855.5h9M628.5 851v9M625 855.5h9M629.5 851v9M625 857.5h9M629.5 853v9M626 856.5h9M630.5 852v9M627 856.5h9M631.5 852v9M627 857.5h9M631.5 853v9M628 856.5h9M632.5 852v9M629 856.5h9M633.5 852v9M629 857.5h9M633.5 853v9M630 855.5h9M634.5 851v9M630 856.5h9M634.5 852v9M631 857.5h9M635.5 853v9M631 856.5h9M635.5 852v9M632 857.5h9M636.5 853v9M632 856.5h9M636.5 852v9M633 857.5h9M637.5 853v9M633 856.5h9M637.5 852v9M634 856.5h9M638.5 852v9M634 855.5h9M638.5 851v9M635 855.5h9M639.5 851v9M636 857.5h9M640.5 853v9M636 856.5h9M640.5 852v9M637 856.5h9M641.5 852v9M638 855.5h9M642.5 851v9M639 856.5h9M643.5 852v9M639 855.5h9M643.5 851v9M639 857.5h9M643.5 853v9M640 856.5h9M644.5 852v9M641 855.5h9M645.5 851v9M642 855.5h9M646.5 851v9M642 856.5h9M646.5 852v9M643 857.5h9M647.5 853v9M643 854.5h9M647.5 850v9M644 855.5h9M648.5 851v9M644 856.5h9M648.5 852v9M644 854.5h9M648.5 850v9M645 855.5h9M649.5 851v9M646 853.5h9M650.5 849v9M646 855.5h9M650.5 851v9M647 855.5h9M651.5 851v9M648 855.5h9M652.5 851v9M649 856.5h9M653.5 852v9M649 855.5h9M653.5 851v9M650 854.5h9M654.5 850v9M650 855.5h9M654.5 851v9M651 854.5h9M655.5 850v9M651 855.5h9M655.5 851v9M652 854.5h9M656.5 850v9M653 855.5h9M657.5 851v9M654 855.5h9M658.5 851v9"/>
<path id="kb" d="M76.5 817.9v1.2M77.5 817.9v1.2M78.5 817.9v1.2M79.5 817.9v2.2M80.5 818.9v1.2M81.5 818.9v1.2M82.5 818.9v2.2M83.5 819.9v1.2M84.5 819.9v1.2M85.5 819.9v2.2M86.5 820.9v1.2M87.5 820.9v2.2M88.5 821.9v1.2M89.5 821.9v2.2M90.5 822.9v1.2M91.5 822.9v1.2M92.5 822.9v2.2M93.5 823.9v1.2M94.5 823.9v2.2M95.5 824.9v1.2M96.5 824.9v1.2M97.5 824.9v2.2M98.5 825.9v1.2M99.5 825.9v2.2M100.5 826.9v1.2M101.5 826.9v2.2M102.5 827.9v1.2M103.5 827.9v1.2M104.5 827.9v2.2M105.5 828.9v1.2M106.5 828.9v2.2M107.5 829.9v1.2M108.5 829.9v1.2M109.5 829.9v2.2M110.5 830.9v1.2M111.5 830.9v1.2M112.5 830.9v2.2M113.5 831.9v1.2M114.5 831.9v1.2M115.5 831.9v2.2M116.5 832.9v1.2M117.5 832.9v1.2M118.5 832.9v1.2M119.5 832.9v2.2M120.5 833.9v1.2M121.5 833.9v1.2M122.5 833.9v2.2M123.5 834.9v1.2M124.5 834.9v2.2M125.5 835.9v1.2M126.5 835.9v1.2M127.5 835.9v2.2M128.5 836.9v1.2M129.5 836.9v1.2M130.5 836.9v1.2M131.5 836.9v2.2M132.5 837.9v1.2M133.5 837.9v1.2M134.5 837.9v1.2M135.5 837.9v2.2M136.5 838.9v1.2M137.5 838.9v1.2M138.5 838.9v1.2M139.5 838.9v1.2M140.5 838.9v1.2M141.5 838.9v1.2M142.5 838.9v2.2M143.5 839.9v1.2M144.5 839.9v1.2M145.5 839.9v1.2M146.5 839.9v1.2M147.5 839.9v1.2M148.5 839.9v2.2M149.5 840.9v1.2M150.5 840.9v1.2M151.5 840.9v1.2M152.5 840.9v1.2M153.5 840.9v2.2M154.5 841.9v1.2M155.5 841.9v1.2M156.5 841.9v1.2M157.5 841.9v1.2M158.5 839.9v3.2M159.5 788.9v52.2M160.5 676.9v113.2M161.5 667.9v27.2M162.5 693.9v127.2M163.5 819.9v24.2M164.5 842.9v2.2M165.5 843.9v2.2M166.5 844.9v1.2M167.5 844.9v1.2M168.5 844.9v1.2M169.5 844.9v2.2M170.5 845.9v1.2M171.5 845.9v1.2M172.5 845.9v1.2M173.5 845.9v1.2M174.5 845.9v1.2M175.5 845.9v1.2M176.5 845.9v2.2M177.5 846.9v1.2M178.5 845.9v2.2M179.5 845.9v1.2M180.5 840.9v6.2M181.5 770.9v71.2M182.5 704.9v67.2M183.5 703.9v31.2M184.5 733.9v92.2M185.5 824.9v23.2M186.5 846.9v2.2M187.5 847.9v1.2M188.5 847.9v2.2M189.5 848.9v1.2M190.5 848.9v2.2M191.5 849.9v1.2M192.5 849.9v1.2M193.5 849.9v2.2M194.5 850.9v1.2M195.5 850.9v1.2M196.5 850.9v2.2M197.5 851.9v1.2M198.5 851.9v1.2M199.5 851.9v2.2M200.5 852.9v1.2M201.5 852.9v1.2M202.5 852.9v1.2M203.5 852.9v2.2M204.5 853.9v1.2M205.5 853.9v1.2M206.5 853.9v1.2M207.5 853.9v2.2M208.5 854.9v1.2M209.5 854.9v1.2M210.5 854.9v1.2M211.5 854.9v1.2M212.5 854.9v1.2M213.5 854.9v2.2M214.5 855.9v1.2M215.5 855.9v1.2M216.5 855.9v1.2M217.5 855.9v1.2M218.5 855.9v1.2M219.5 855.9v1.2M220.5 855.9v1.2M221.5 855.9v1.2M222.5 855.9v1.2M223.5 855.9v2.2M224.5 856.9v1.2M225.5 856.9v1.2M226.5 856.9v1.2M227.5 856.9v1.2M228.5 856.9v1.2M229.5 856.9v1.2M230.5 856.9v1.2M231.5 856.9v2.2M232.5 857.9v1.2M233.5 857.9v1.2M234.5 857.9v1.2M235.5 857.9v1.2M236.5 857.9v1.2M237.5 857.9v1.2M238.5 857.9v1.2M239.5 857.9v1.2M240.5 857.9v1.2M241.5 857.9v1.2M242.5 857.9v1.2M243.5 857.9v1.2M244.5 857.9v1.2M245.5 857.9v1.2M246.5 857.9v1.2M247.5 857.9v1.2M248.5 857.9v1.2M249.5 856.9v2.2M250.5 855.9v2.2M251.5 824.9v32.2M252.5 742.9v83.2M253.5 722.9v21.2M254.5 725.9v54.2M255.5 778.9v70.2M256.5 847.9v10.2M257.5 856.9v2.2M258.5 857.9v1.2M259.5 857.9v1.2M260.5 857.9v1.2M261.5 857.9v1.2M262.5 857.9v1.2M263.5 857.9v2.2M264.5 858.9v1.2M265.5 858.9v1.2M266.5 858.9v1.2M267.5 858.9v1.2M268.5 858.9v1.2M269.5 858.9v1.2M270.5 858.9v1.2M271.5 858.9v1.2M272.5 858.9v1.2M273.5 858.9v1.2M274.5 858.9v1.2M275.5 858.9v1.2M276.5 858.9v1.2M277.5 858.9v1.2M278.5 858.9v1.2M279.5 858.9v1.2M280.5 858.9v1.2M281.5 857.9v2.2M282.5 857.9v1.2M283.5 857.9v1.2M284.5 857.9v1.2M285.5 856.9v2.2M286.5 856.9v1.2M287.5 856.9v1.2M288.5 856.9v1.2M289.5 855.9v2.2M290.5 855.9v1.2M291.5 855.9v1.2M292.5 855.9v1.2M293.5 853.9v3.2M294.5 835.9v19.2M295.5 799.9v37.2M296.5 790.9v10.2M297.5 790.9v18.2M298.5 807.9v36.2M299.5 842.9v12.2M300.5 853.9v2.2M301.5 854.9v1.2M302.5 854.9v1.2M303.5 854.9v1.2M304.5 854.9v1.2M305.5 853.9v2.2M306.5 852.9v2.2M307.5 842.9v11.2M308.5 795.9v48.2M309.5 749.9v47.2M310.5 744.9v6.2M311.5 745.9v38.2M312.5 782.9v55.2M313.5 836.9v16.2M314.5 851.9v3.2M315.5 853.9v1.2M316.5 853.9v1.2M317.5 853.9v1.2M318.5 853.9v1.2M319.5 853.9v1.2M320.5 853.9v1.2M321.5 852.9v2.2M322.5 852.9v1.2M323.5 852.9v1.2M324.5 852.9v1.2M325.5 851.9v2.2M326.5 851.9v1.2M327.5 851.9v1.2M328.5 850.9v2.2M329.5 850.9v1.2M330.5 850.9v1.2M331.5 849.9v2.2M332.5 849.9v1.2M333.5 849.9v1.2M334.5 848.9v2.2M335.5 848.9v1.2M336.5 848.9v1.2M337.5 847.9v2.2M338.5 847.9v1.2M339.5 847.9v1.2M340.5 847.9v1.2M341.5 847.9v1.2M342.5 847.9v1.2M343.5 847.9v1.2M344.5 847.9v1.2M345.5 847.9v1.2M346.5 847.9v1.2M347.5 847.9v2.2M348.5 848.9v1.2M349.5 848.9v2.2M350.5 849.9v1.2M351.5 849.9v2.2M352.5 850.9v1.2M353.5 850.9v1.2M354.5 850.9v1.2M355.5 849.9v2.2M356.5 848.9v2.2M357.5 839.9v10.2M358.5 777.9v63.2M359.5 654.9v124.2M360.5 587.9v68.2M361.5 583.9v9.2M362.5 591.9v81.2M363.5 671.9v121.2M364.5 791.9v53.2M365.5 843.9v7.2M366.5 849.9v2.2M367.5 850.9v2.2M368.5 851.9v1.2M369.5 851.9v2.2M370.5 852.9v1.2M371.5 852.9v1.2M372.5 852.9v2.2M373.5 853.9v1.2M374.5 853.9v1.2M375.5 853.9v1.2M376.5 853.9v1.2M377.5 853.9v2.2M378.5 854.9v1.2M379.5 854.9v1.2M380.5 854.9v2.2M381.5 855.9v1.2M382.5 855.9v2.2M383.5 856.9v1.2M384.5 856.9v1.2M385.5 856.9v1.2M386.5 856.9v1.2M387.5 856.9v1.2M388.5 856.9v1.2M389.5 856.9v1.2M390.5 856.9v1.2M391.5 856.9v1.2M392.5 855.9v2.2M393.5 853.9v3.2M394.5 848.9v6.2M395.5 843.9v6.2M396.5 840.9v4.2M397.5 839.9v2.2M398.5 839.9v1.2M399.5 839.9v5.2M400.5 843.9v6.2M401.5 848.9v6.2M402.5 853.9v3.2M403.5 855.9v1.2M404.5 854.9v2.2M405.5 850.9v5.2M406.5 839.9v12.2M407.5 822.9v18.2M408.5 810.9v13.2M409.5 807.9v4.2M410.5 807.9v2.2M411.5 808.9v9.2M412.5 816.9v16.2M413.5 831.9v16.2M414.5 846.9v8.2M415.5 853.9v3.2M416.5 855.9v1.2M417.5 855.9v1.2M418.5 855.9v1.2M419.5 855.9v1.2M420.5 855.9v1.2M421.5 855.9v1.2M422.5 855.9v1.2M423.5 855.9v1.2M424.5 855.9v1.2M425.5 855.9v1.2M426.5 855.9v1.2M427.5 855.9v1.2M428.5 855.9v1.2M429.5 855.9v1.2M430.5 855.9v2.2M431.5 856.9v1.2M432.5 856.9v1.2M433.5 856.9v1.2M434.5 856.9v1.2M435.5 856.9v2.2M436.5 857.9v1.2M437.5 857.9v1.2M438.5 857.9v1.2M439.5 857.9v1.2M440.5 857.9v1.2M441.5 857.9v1.2M442.5 857.9v1.2M443.5 857.9v1.2M444.5 857.9v1.2M445.5 857.9v1.2M446.5 856.9v2.2M447.5 856.9v1.2M448.5 856.9v1.2M449.5 856.9v1.2M450.5 856.9v1.2M451.5 855.9v2.2M452.5 851.9v5.2M453.5 842.9v10.2M454.5 828.9v15.2M455.5 817.9v12.2M456.5 811.9v7.2M457.5 810.9v2.2M458.5 810.9v3.2M459.5 812.9v8.2M460.5 819.9v14.2M461.5 832.9v14.2M462.5 845.9v8.2M463.5 852.9v3.2M464.5 854.9v1.2M465.5 854.9v1.2M466.5 854.9v1.2M467.5 854.9v1.2M468.5 854.9v1.2M469.5 854.9v2.2M470.5 855.9v1.2M471.5 855.9v1.2M472.5 855.9v1.2M473.5 855.9v1.2M474.5 855.9v1.2M475.5 855.9v1.2M476.5 855.9v1.2M477.5 855.9v1.2M478.5 855.9v1.2M479.5 855.9v1.2M480.5 855.9v1.2M481.5 855.9v1.2M482.5 855.9v1.2M483.5 855.9v1.2M484.5 854.9v2.2M485.5 854.9v1.2M486.5 854.9v1.2M487.5 854.9v1.2M488.5 853.9v2.2M489.5 851.9v3.2M490.5 850.9v2.2M491.5 848.9v3.2M492.5 848.9v1.2M493.5 847.9v2.2M494.5 847.9v1.2M495.5 847.9v2.2M496.5 848.9v2.2M497.5 849.9v2.2M498.5 850.9v2.2M499.5 851.9v3.2M500.5 853.9v1.2M501.5 853.9v2.2M502.5 854.9v1.2M503.5 854.9v1.2M504.5 854.9v1.2M505.5 854.9v1.2M506.5 854.9v1.2M507.5 854.9v1.2M508.5 854.9v1.2M509.5 854.9v1.2M510.5 854.9v1.2M511.5 854.9v1.2M512.5 854.9v1.2M513.5 854.9v1.2M514.5 854.9v1.2M515.5 854.9v1.2M516.5 854.9v1.2M517.5 854.9v1.2M518.5 853.9v2.2M519.5 852.9v2.2M520.5 852.9v1.2M521.5 852.9v2.2M522.5 853.9v2.2M523.5 854.9v1.2M524.5 854.9v1.2M525.5 854.9v1.2M526.5 853.9v2.2M527.5 853.9v1.2M528.5 853.9v1.2M529.5 853.9v1.2M530.5 853.9v1.2M531.5 853.9v1.2M532.5 853.9v1.2M533.5 852.9v2.2M534.5 851.9v2.2M535.5 851.9v1.2M536.5 851.9v1.2M537.5 851.9v2.2M538.5 852.9v2.2M539.5 853.9v1.2M540.5 853.9v1.2M541.5 853.9v1.2M542.5 853.9v1.2M543.5 853.9v1.2M544.5 853.9v1.2M545.5 852.9v2.2M546.5 851.9v2.2M547.5 848.9v4.2M548.5 843.9v6.2M549.5 833.9v11.2M550.5 819.9v15.2M551.5 799.9v21.2M552.5 775.9v25.2M553.5 749.9v27.2M554.5 726.9v24.2M555.5 707.9v20.2M556.5 696.9v12.2M557.5 691.9v6.2M558.5 691.9v1.2M559.5 691.9v6.2M560.5 696.9v13.2M561.5 708.9v20.2M562.5 727.9v24.2M563.5 750.9v27.2M564.5 776.9v25.2M565.5 800.9v21.2M566.5 820.9v16.2M567.5 835.9v11.2M568.5 845.9v6.2M569.5 850.9v4.2M570.5 853.9v2.2M571.5 854.9v2.2M572.5 855.9v1.2M573.5 855.9v1.2M574.5 855.9v1.2M575.5 855.9v1.2M576.5 855.9v1.2M577.5 855.9v1.2M578.5 855.9v1.2M579.5 855.9v1.2M580.5 855.9v1.2M581.5 854.9v2.2M582.5 854.9v1.2M583.5 854.9v1.2M584.5 854.9v1.2M585.5 854.9v1.2M586.5 854.9v1.2M587.5 854.9v1.2M588.5 854.9v1.2M589.5 854.9v1.2M590.5 854.9v1.2M591.5 854.9v1.2M592.5 854.9v1.2M593.5 854.9v1.2M594.5 854.9v1.2M595.5 854.9v1.2M596.5 854.9v1.2M597.5 854.9v1.2M598.5 854.9v1.2M599.5 854.9v1.2M600.5 853.9v2.2M601.5 853.9v1.2M602.5 852.9v2.2M603.5 851.9v2.2M604.5 850.9v2.2M605.5 849.9v2.2M606.5 848.9v2.2M607.5 846.9v3.2M608.5 844.9v3.2M609.5 843.9v2.2M610.5 841.9v3.2M611.5 839.9v3.2M612.5 838.9v2.2M613.5 837.9v2.2M614.5 836.9v2.2M615.5 836.9v1.2M616.5 836.9v2.2M617.5 837.9v2.2M618.5 838.9v2.2M619.5 839.9v3.2M620.5 841.9v4.2M621.5 844.9v3.2M622.5 846.9v3.2M623.5 848.9v3.2M624.5 850.9v2.2M625.5 851.9v3.2M626.5 853.9v2.2M627.5 854.9v1.2M628.5 854.9v2.2M629.5 855.9v1.2M630.5 855.9v1.2M631.5 855.9v1.2M632.5 855.9v1.2M633.5 855.9v1.2M634.5 855.9v1.2M635.5 855.9v1.2M636.5 855.9v1.2M637.5 855.9v1.2M638.5 855.9v1.2M639.5 855.9v1.2M640.5 855.9v1.2M641.5 855.9v1.2M642.5 855.9v1.2M643.5 855.9v1.2M644.5 854.9v2.2M645.5 854.9v1.2M646.5 854.9v1.2M647.5 854.9v1.2M648.5 854.9v1.2M649.5 854.9v1.2M650.5 854.9v1.2M651.5 854.9v1.2M652.5 854.9v1.2M653.5 854.9v1.2M654.5 854.9v1.2M655.5 854.9v1.2M656.5 854.9v1.2M657.5 854.9v1.2M658.5 854.9v1.2"/>
<path id="gb" d="M183.5 886v9M253.5 886v9M310.5 886v9M362.5 886v9M410.5 886v9M457.5 886v9M558.5 886v9M616.5 886v9M161.5 903v9M296.5 903v9M397.5 903v9M494.5 903v9M600.5 903v9"/>
<path id="db" d="M76.5 949v1M77.5 949v3M78.5 949v1M79.5 948v4M80.5 949v1M81.5 949v2M82.5 948v3M83.5 949v3M84.5 948v2M85.5 947v4M86.5 948v3M87.5 948v3M88.5 949v2M89.5 949v2M90.5 948v3M91.5 949v2M92.5 949v2M93.5 947v3M94.5 948v2M95.5 948v3M96.5 949v2M97.5 948v3M98.5 949v2M99.5 949v1M100.5 948v2M101.5 948v3M102.5 948v2M103.5 948v3M104.5 948v3M105.5 949v2M106.5 947v3M107.5 949v2M108.5 949v2M109.5 948v3M110.5 948v3M111.5 949v3M112.5 948v4M113.5 948v4M114.5 949v3M115.5 948v3M116.5 949v2M117.5 948v2M118.5 949v2M119.5 949v3M120.5 950v2M121.5 948v3M122.5 949v2M123.5 948v2M124.5 948v2M125.5 948v2M126.5 949v2M127.5 949v2M128.5 949v2M129.5 948v3M130.5 949v2M131.5 949v1M132.5 949v2M133.5 948v3M134.5 949v2M135.5 948v3M136.5 948v3M137.5 948v3M138.5 948v2M139.5 949v2M140.5 949v2M141.5 949v2M142.5 948v3M143.5 950v2M144.5 950v2M145.5 949v3M146.5 949v2M147.5 947v5M148.5 947v4M149.5 949v2M150.5 949v2M151.5 949v2M152.5 949v2M153.5 949v2M154.5 949v3M155.5 949v2M156.5 948v2M157.5 949v2M158.5 948v3M159.5 947v5M160.5 950v7M161.5 947v9M162.5 943v14M163.5 944v6M164.5 949v3M165.5 948v3M166.5 949v2M167.5 949v2M168.5 949v2M169.5 950v2M170.5 948v3M171.5 948v2M172.5 948v3M173.5 949v2M174.5 949v1M175.5 949v1M176.5 949v2M177.5 949v2M178.5 949v3M179.5 949v2M180.5 945v6M181.5 934v12M182.5 941v14M183.5 951v7M184.5 941v11M185.5 944v6M186.5 949v3M187.5 949v2M188.5 948v3M189.5 949v2M190.5 949v2M191.5 949v1M192.5 948v2M193.5 948v2M194.5 948v2M195.5 949v1M196.5 949v1M197.5 949v2M198.5 949v2M199.5 949v2M200.5 949v2M201.5 949v2M202.5 949v2M203.5 949v2M204.5 949v1M205.5 949v1M206.5 948v2M207.5 948v2M208.5 949v2M209.5 949v2M210.5 949v1M211.5 949v2M212.5 949v2M213.5 948v3M214.5 949v2M215.5 948v4M216.5 948v3M217.5 948v3M218.5 948v3M219.5 949v1M220.5 949v2M221.5 949v2M222.5 949v2M223.5 949v2M224.5 949v2M225.5 949v2M226.5 949v2M227.5 949v2M228.5 950v1M229.5 949v2M230.5 949v2M231.5 948v3M232.5 949v2M233.5 949v2M234.5 949v2M235.5 949v2M236.5 949v2M237.5 949v2M238.5 948v3M239.5 948v3M240.5 949v1M241.5 949v3M242.5 949v3M243.5 948v3M244.5 949v2M245.5 949v2M246.5 948v3M247.5 949v2M248.5 949v2M249.5 949v1M250.5 948v2M251.5 942v8M252.5 943v9M253.5 951v10M254.5 945v12M255.5 941v6M256.5 946v4M257.5 949v1M258.5 949v1M259.5 949v2M260.5 949v2M261.5 949v2M262.5 948v2M263.5 949v2M264.5 949v2M265.5 948v3M266.5 948v3M267.5 949v2M268.5 949v2M269.5 949v2M270.5 949v3M271.5 949v2M272.5 949v2M273.5 949v2M274.5 949v2M275.5 949v1M276.5 949v1M277.5 949v3M278.5 949v2M279.5 949v1M280.5 949v1M281.5 948v3M282.5 948v3M283.5 949v2M284.5 949v2M285.5 948v3M286.5 949v2M287.5 949v1M288.5 948v3M289.5 949v2M290.5 949v2M291.5 948v3M292.5 949v1M293.5 947v3M294.5 944v11M295.5 940v18M296.5 942v16M297.5 941v2M298.5 942v5M299.5 946v5M300.5 948v4M301.5 948v3M302.5 948v3M303.5 949v2M304.5 949v2M305.5 949v2M306.5 948v3M307.5 946v5M308.5 941v17M309.5 947v9M310.5 947v3M311.5 939v21M312.5 933v11M313.5 943v9M314.5 949v2M315.5 949v2M316.5 949v2M317.5 947v3M318.5 948v2M319.5 949v2M320.5 948v4M321.5 949v3M322.5 948v2M323.5 949v2M324.5 950v1M325.5 949v2M326.5 949v1M327.5 948v2M328.5 949v2M329.5 948v2M330.5 948v3M331.5 948v2M332.5 948v2M333.5 948v2M334.5 948v2M335.5 948v3M336.5 949v2M337.5 949v1M338.5 948v2M339.5 948v2M340.5 948v2M341.5 948v3M342.5 949v2M343.5 949v2M344.5 948v2M345.5 948v2M346.5 948v2M347.5 949v1M348.5 948v2M349.5 949v1M350.5 949v3M351.5 949v2M352.5 949v2M353.5 948v2M354.5 948v4M355.5 948v3M356.5 949v2M357.5 946v4M358.5 942v12M359.5 950v9M360.5 945v15M361.5 950v14M362.5 928v26M363.5 916v26M364.5 928v21M365.5 946v4M366.5 947v4M367.5 948v2M368.5 948v3M369.5 950v2M370.5 948v3M371.5 948v3M372.5 948v3M373.5 949v1M374.5 949v2M375.5 949v2M376.5 949v3M377.5 949v2M378.5 949v3M379.5 949v2M380.5 949v2M381.5 950v1M382.5 950v1M383.5 949v2M384.5 948v4M385.5 950v2M386.5 949v2M387.5 949v2M388.5 949v2M389.5 948v2M390.5 948v4M391.5 948v3M392.5 949v2M393.5 946v5M394.5 945v5M395.5 948v2M396.5 948v2M397.5 949v1M398.5 948v2M399.5 948v3M400.5 948v3M401.5 948v4M402.5 950v2M403.5 949v2M404.5 948v3M405.5 948v3M406.5 946v4M407.5 943v10M408.5 945v7M409.5 948v4M410.5 949v3M411.5 948v3M412.5 944v5M413.5 948v4M414.5 948v2M415.5 948v2M416.5 949v2M417.5 949v2M418.5 948v2M419.5 948v3M420.5 949v2M421.5 949v2M422.5 949v2M423.5 949v2M424.5 949v1M425.5 949v1M426.5 949v2M427.5 949v2M428.5 949v1M429.5 949v1M430.5 948v3M431.5 949v2M432.5 949v2M433.5 948v4M434.5 949v2M435.5 948v3M436.5 949v2M437.5 949v2M438.5 949v2M439.5 949v2M440.5 949v2M441.5 948v2M442.5 949v2M443.5 949v2M444.5 948v2M445.5 948v3M446.5 948v2M447.5 949v2M448.5 949v2M449.5 949v2M450.5 949v2M451.5 949v2M452.5 948v2M453.5 949v3M454.5 947v6M455.5 947v3M456.5 948v3M457.5 949v3M458.5 948v4M459.5 948v6M460.5 950v4M461.5 947v5M462.5 948v4M463.5 948v2M464.5 949v2M465.5 949v1M466.5 948v2M467.5 949v2M468.5 948v3M469.5 948v4M470.5 948v2M471.5 949v2M472.5 949v2M473.5 949v2M474.5 949v2M475.5 949v3M476.5 949v3M477.5 949v2M478.5 949v2M479.5 949v2M480.5 950v1M481.5 950v1M482.5 949v2M483.5 948v3M484.5 948v4M485.5 948v4M486.5 948v3M487.5 949v2M488.5 948v2M489.5 948v3M490.5 949v1M491.5 949v1M492.5 948v2M493.5 947v4M494.5 949v2M495.5 949v1M496.5 949v1M497.5 948v3M498.5 949v2M499.5 949v2M500.5 949v2M501.5 949v2M502.5 949v1M503.5 948v2M504.5 948v3M505.5 950v1M506.5 949v2M507.5 949v2M508.5 949v2M509.5 949v2M510.5 948v3M511.5 949v2M512.5 949v2M513.5 949v2M514.5 949v2M515.5 947v3M516.5 949v1M517.5 949v2M518.5 950v2M519.5 949v2M520.5 948v3M521.5 949v2M522.5 949v1M523.5 949v3M524.5 950v2M525.5 949v2M526.5 949v3M527.5 949v2M528.5 949v2M529.5 949v2M530.5 949v2M531.5 949v2M532.5 948v3M533.5 948v2M534.5 948v3M535.5 948v3M536.5 949v1M537.5 949v2M538.5 949v3M539.5 949v3M540.5 949v3M541.5 949v2M542.5 948v3M543.5 949v2M544.5 949v2M545.5 950v2M546.5 950v3M547.5 950v4M548.5 950v2M549.5 946v6M550.5 947v2M551.5 943v6M552.5 946v3M553.5 946v6M554.5 950v10M555.5 955v7M556.5 958v6M557.5 954v5M558.5 954v6M559.5 946v12M560.5 943v4M561.5 943v5M562.5 947v4M563.5 943v10M564.5 951v2M565.5 951v7M566.5 955v4M567.5 956v4M568.5 951v6M569.5 948v4M570.5 946v3M571.5 945v2M572.5 945v2M573.5 946v3M574.5 948v2M575.5 949v3M576.5 950v2M577.5 950v2M578.5 950v2M579.5 950v2M580.5 949v2M581.5 949v3M582.5 949v1M583.5 949v2M584.5 949v2M585.5 949v2M586.5 949v2M587.5 949v2M588.5 948v3M589.5 948v3M590.5 948v3M591.5 950v1M592.5 949v2M593.5 949v2M594.5 949v1M595.5 949v1M596.5 948v3M597.5 949v2M598.5 949v2M599.5 949v2M600.5 949v2M601.5 948v2M602.5 949v2M603.5 949v2M604.5 949v1M605.5 948v2M606.5 947v3M607.5 947v3M608.5 947v3M609.5 948v2M610.5 948v2M611.5 948v3M612.5 947v3M613.5 947v3M614.5 947v2M615.5 948v1M616.5 948v2M617.5 949v1M618.5 948v2M619.5 947v3M620.5 948v2M621.5 947v5M622.5 948v2M623.5 948v3M624.5 948v1M625.5 948v2M626.5 949v2M627.5 949v2M628.5 949v1M629.5 949v2M630.5 949v2M631.5 949v2M632.5 949v2M633.5 949v2M634.5 948v3M635.5 949v2M636.5 949v2M637.5 949v2M638.5 948v3M639.5 948v2M640.5 949v2M641.5 949v2M642.5 949v2M643.5 949v2M644.5 949v2M645.5 949v1M646.5 949v3M647.5 949v3M648.5 949v2M649.5 949v1M650.5 948v3M651.5 949v1M652.5 949v3M653.5 949v3M654.5 949v2M655.5 949v1M656.5 949v1M657.5 949v2M658.5 950v1"/>
</defs>
<g clip-path="url(#clipb)"><g transform="scale(3)" fill="none">
<use href="#rb" stroke="#ff0000" stroke-width="1.7" stroke-opacity="0.3"/>
<use href="#rb" stroke="#ff0000" stroke-width="1"/>
<use href="#kb" stroke="#000" stroke-width="1.75" stroke-opacity="0.2"/>
<use href="#kb" stroke="#000" stroke-width="1.25" stroke-opacity="0.88"/>
<use href="#gb" stroke="#1f9a28" stroke-width="1.8" stroke-opacity="0.35"/>
<use href="#gb" stroke="#1f9a28" stroke-width="0.9"/>
<use href="#db" stroke="#0000ff" stroke-width="1.7" stroke-opacity="0.3"/>
<use href="#db" stroke="#0000ff" stroke-width="1"/>
</g></g>
<text x="232.0" y="65.3" font-size="51" text-anchor="end" class="tl">6000</text>
<text x="232.0" y="238.6" font-size="51" text-anchor="end" class="tl">5000</text>
<text x="232.0" y="412.7" font-size="51" text-anchor="end" class="tl">4000</text>
<text x="232.0" y="585.7" font-size="51" text-anchor="end" class="tl">3000</text>
<text x="232.0" y="758.7" font-size="51" text-anchor="end" class="tl">2000</text>
<text x="232.0" y="933.0" font-size="51" text-anchor="end" class="tl">1000</text>
<text x="232.0" y="1106.2" font-size="51" text-anchor="end" class="tl">0</text>
<text x="232.0" y="1278.7" font-size="51" text-anchor="end" class="tl">-1000</text>
<text x="232.0" y="1717.2" font-size="51" text-anchor="end" class="tl">4000</text>
<text x="232.0" y="1845.2" font-size="51" text-anchor="end" class="tl">3500</text>
<text x="232.0" y="1974.6" font-size="51" text-anchor="end" class="tl">3000</text>
<text x="232.0" y="2104.0" font-size="51" text-anchor="end" class="tl">2500</text>
<text x="232.0" y="2231.7" font-size="51" text-anchor="end" class="tl">2000</text>
<text x="232.0" y="2365.7" font-size="51" text-anchor="end" class="tl">1500</text>
<text x="232.0" y="2495.2" font-size="51" text-anchor="end" class="tl">1000</text>
<text x="232.0" y="2624.7" font-size="51" text-anchor="end" class="tl">500</text>
<text x="232.0" y="2753.7" font-size="51" text-anchor="end" class="tl">0</text>
<text x="232.0" y="2881.7" font-size="51" text-anchor="end" class="tl">-500</text>
<text x="339.0" y="1389.5" font-size="51" text-anchor="middle" class="tl">20</text>
<text x="611.5" y="1389.5" font-size="51" text-anchor="middle" class="tl">40</text>
<text x="884.0" y="1389.5" font-size="51" text-anchor="middle" class="tl">60</text>
<text x="1156.5" y="1389.5" font-size="51" text-anchor="middle" class="tl">80</text>
<text x="1429.0" y="1389.5" font-size="51" text-anchor="middle" class="tl">100</text>
<text x="1701.5" y="1389.5" font-size="51" text-anchor="middle" class="tl">120</text>
<text x="1974.0" y="1389.5" font-size="51" text-anchor="middle" class="tl">140</text>
<text x="1104.0" y="1474.0" font-size="62" text-anchor="middle" fill="#111">2 theta (deg)</text>
<text x="339.0" y="2971.5" font-size="51" text-anchor="middle" class="tl">20</text>
<text x="611.5" y="2971.5" font-size="51" text-anchor="middle" class="tl">40</text>
<text x="884.0" y="2971.5" font-size="51" text-anchor="middle" class="tl">60</text>
<text x="1156.5" y="2971.5" font-size="51" text-anchor="middle" class="tl">80</text>
<text x="1429.0" y="2971.5" font-size="51" text-anchor="middle" class="tl">100</text>
<text x="1701.5" y="2971.5" font-size="51" text-anchor="middle" class="tl">120</text>
<text x="1974.0" y="2971.5" font-size="51" text-anchor="middle" class="tl">140</text>
<text x="1104.0" y="3056.0" font-size="62" text-anchor="middle" fill="#111">2 theta (deg)</text>
<text transform="translate(73,737.3) rotate(-90)" font-size="62" text-anchor="middle" fill="#111">Intensity (a.u.)</text>
<text transform="translate(89,2325.5) rotate(-90)" font-size="62" text-anchor="middle" fill="#111">Intensity (a.u.)</text>
<text transform="translate(279.5,201) scale(0.81,1)" font-size="98" fill="#000">a</text>
<text transform="translate(336,199.5) scale(0.75,1)" font-size="103" fill="#000">)</text>
<text transform="translate(285,1785) scale(1,1)" font-size="99" fill="#000">b</text>
<text transform="translate(346.5,1784.5) scale(0.75,1)" font-size="103" fill="#000">)</text>
<text x="1626.0" y="181.0" font-size="72" text-anchor="middle" fill="#000" letter-spacing="1">SrFeO<tspan font-size="40" dy="30">2</tspan><tspan dy="-30">F, T= 2 K</tspan></text>
<text x="1627.0" y="294.0" font-size="72" text-anchor="middle" fill="#000">NPD, &#955;= 2.40 A</text>
<text x="1558.0" y="1754.0" font-size="72" text-anchor="middle" fill="#000" letter-spacing="0.9">Sr<tspan font-size="40" dy="29">0.5</tspan><tspan dy="-29">Ba</tspan><tspan font-size="40" dy="29">0.5</tspan><tspan dy="-29">FeO</tspan><tspan font-size="40" dy="29">2</tspan><tspan dy="-29">F, T= 2 K</tspan></text>
<text x="1555.0" y="1869.0" font-size="72" text-anchor="middle" fill="#000">NPD, &#955;= 2.40 A</text>
<rect x="230.0" y="50.0" width="1744.0" height="1301.0" fill="none" stroke="#000" stroke-width="8.5" stroke-opacity="0.35"/>
<rect x="230.0" y="50.0" width="1744.0" height="1301.0" fill="none" stroke="#000" stroke-width="4.6"/>
<rect x="230.0" y="1638.0" width="1744.0" height="1295.0" fill="none" stroke="#000" stroke-width="8.5" stroke-opacity="0.35"/>
<rect x="230.0" y="1638.0" width="1744.0" height="1295.0" fill="none" stroke="#000" stroke-width="4.6"/>
</g></svg>
</body></html>
